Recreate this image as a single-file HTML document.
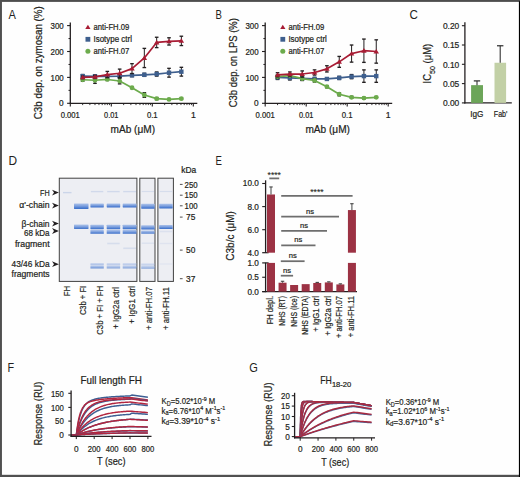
<!DOCTYPE html>
<html><head><meta charset="utf-8"><style>
html,body{margin:0;padding:0;background:#fff;}
body{width:520px;height:477px;overflow:hidden;position:relative;}
svg{position:absolute;left:0;top:0;font-family:"Liberation Sans", sans-serif;}
</style></head><body>
<svg width="520" height="477" viewBox="0 0 520 477">
<rect x="0" y="0" width="520" height="477" fill="#fefefe"/>
<text x="8.4" y="18.9" font-size="12.3" text-anchor="start" fill="#231f20" textLength="7.4" lengthAdjust="spacingAndGlyphs">A</text>
<text x="215.6" y="18.6" font-size="12.3" text-anchor="start" fill="#231f20" textLength="6.4" lengthAdjust="spacingAndGlyphs">B</text>
<text x="409.5" y="18.9" font-size="12.3" text-anchor="start" fill="#231f20" textLength="8.4" lengthAdjust="spacingAndGlyphs">C</text>
<text x="8.4" y="164.7" font-size="12.3" text-anchor="start" fill="#231f20" textLength="8.6" lengthAdjust="spacingAndGlyphs">D</text>
<text x="215.6" y="164.5" font-size="12.3" text-anchor="start" fill="#231f20" textLength="6.4" lengthAdjust="spacingAndGlyphs">E</text>
<text x="7.6" y="371.8" font-size="12.3" text-anchor="start" fill="#231f20" textLength="6.6" lengthAdjust="spacingAndGlyphs">F</text>
<text x="249.2" y="371.5" font-size="12.3" text-anchor="start" fill="#231f20" textLength="8.6" lengthAdjust="spacingAndGlyphs">G</text>
<line x1="70.3" y1="22.5" x2="70.3" y2="103.89999999999999" stroke="#231f20" stroke-width="1.3"/>
<line x1="69.7" y1="103.3" x2="197.3" y2="103.3" stroke="#231f20" stroke-width="1.3"/>
<line x1="67.1" y1="103.3" x2="70.3" y2="103.3" stroke="#231f20" stroke-width="1.1"/>
<text x="63.699999999999996" y="106.39999999999999" font-size="8.7" text-anchor="end" fill="#231f20" textLength="4.6" lengthAdjust="spacingAndGlyphs" stroke="#231f20" stroke-width="0.22">0</text>
<line x1="67.1" y1="77.39999999999999" x2="70.3" y2="77.39999999999999" stroke="#231f20" stroke-width="1.1"/>
<text x="63.699999999999996" y="80.49999999999999" font-size="8.7" text-anchor="end" fill="#231f20" textLength="13.2" lengthAdjust="spacingAndGlyphs" stroke="#231f20" stroke-width="0.22">100</text>
<line x1="67.1" y1="51.49999999999999" x2="70.3" y2="51.49999999999999" stroke="#231f20" stroke-width="1.1"/>
<text x="63.699999999999996" y="54.599999999999994" font-size="8.7" text-anchor="end" fill="#231f20" textLength="13.2" lengthAdjust="spacingAndGlyphs" stroke="#231f20" stroke-width="0.22">200</text>
<line x1="67.1" y1="25.599999999999994" x2="70.3" y2="25.599999999999994" stroke="#231f20" stroke-width="1.1"/>
<text x="63.699999999999996" y="28.699999999999996" font-size="8.7" text-anchor="end" fill="#231f20" textLength="13.2" lengthAdjust="spacingAndGlyphs" stroke="#231f20" stroke-width="0.22">300</text>
<line x1="68.5" y1="90.35" x2="70.3" y2="90.35" stroke="#231f20" stroke-width="1.0"/>
<line x1="68.5" y1="64.44999999999999" x2="70.3" y2="64.44999999999999" stroke="#231f20" stroke-width="1.0"/>
<line x1="68.5" y1="38.55" x2="70.3" y2="38.55" stroke="#231f20" stroke-width="1.0"/>
<line x1="70.3" y1="103.3" x2="70.3" y2="106.6" stroke="#231f20" stroke-width="1.1"/>
<line x1="82.64222982222323" y1="103.3" x2="82.64222982222323" y2="105.1" stroke="#231f20" stroke-width="0.9"/>
<line x1="89.86197144350615" y1="103.3" x2="89.86197144350615" y2="105.1" stroke="#231f20" stroke-width="0.9"/>
<line x1="94.98445964444646" y1="103.3" x2="94.98445964444646" y2="105.1" stroke="#231f20" stroke-width="0.9"/>
<line x1="98.95777017777677" y1="103.3" x2="98.95777017777677" y2="105.1" stroke="#231f20" stroke-width="0.9"/>
<line x1="102.20420126572938" y1="103.3" x2="102.20420126572938" y2="105.1" stroke="#231f20" stroke-width="0.9"/>
<line x1="104.94901964058452" y1="103.3" x2="104.94901964058452" y2="105.1" stroke="#231f20" stroke-width="0.9"/>
<line x1="107.32668946666968" y1="103.3" x2="107.32668946666968" y2="105.1" stroke="#231f20" stroke-width="0.9"/>
<line x1="109.42394288701232" y1="103.3" x2="109.42394288701232" y2="105.1" stroke="#231f20" stroke-width="0.9"/>
<line x1="111.3" y1="103.3" x2="111.3" y2="106.6" stroke="#231f20" stroke-width="1.1"/>
<line x1="123.64222982222323" y1="103.3" x2="123.64222982222323" y2="105.1" stroke="#231f20" stroke-width="0.9"/>
<line x1="130.86197144350615" y1="103.3" x2="130.86197144350615" y2="105.1" stroke="#231f20" stroke-width="0.9"/>
<line x1="135.98445964444647" y1="103.3" x2="135.98445964444647" y2="105.1" stroke="#231f20" stroke-width="0.9"/>
<line x1="139.95777017777675" y1="103.3" x2="139.95777017777675" y2="105.1" stroke="#231f20" stroke-width="0.9"/>
<line x1="143.20420126572938" y1="103.3" x2="143.20420126572938" y2="105.1" stroke="#231f20" stroke-width="0.9"/>
<line x1="145.94901964058454" y1="103.3" x2="145.94901964058454" y2="105.1" stroke="#231f20" stroke-width="0.9"/>
<line x1="148.32668946666968" y1="103.3" x2="148.32668946666968" y2="105.1" stroke="#231f20" stroke-width="0.9"/>
<line x1="150.42394288701232" y1="103.3" x2="150.42394288701232" y2="105.1" stroke="#231f20" stroke-width="0.9"/>
<line x1="152.3" y1="103.3" x2="152.3" y2="106.6" stroke="#231f20" stroke-width="1.1"/>
<line x1="164.64222982222321" y1="103.3" x2="164.64222982222321" y2="105.1" stroke="#231f20" stroke-width="0.9"/>
<line x1="171.86197144350615" y1="103.3" x2="171.86197144350615" y2="105.1" stroke="#231f20" stroke-width="0.9"/>
<line x1="176.98445964444647" y1="103.3" x2="176.98445964444647" y2="105.1" stroke="#231f20" stroke-width="0.9"/>
<line x1="180.95777017777675" y1="103.3" x2="180.95777017777675" y2="105.1" stroke="#231f20" stroke-width="0.9"/>
<line x1="184.2042012657294" y1="103.3" x2="184.2042012657294" y2="105.1" stroke="#231f20" stroke-width="0.9"/>
<line x1="186.94901964058454" y1="103.3" x2="186.94901964058454" y2="105.1" stroke="#231f20" stroke-width="0.9"/>
<line x1="189.32668946666968" y1="103.3" x2="189.32668946666968" y2="105.1" stroke="#231f20" stroke-width="0.9"/>
<line x1="191.42394288701232" y1="103.3" x2="191.42394288701232" y2="105.1" stroke="#231f20" stroke-width="0.9"/>
<line x1="193.3" y1="103.3" x2="193.3" y2="106.6" stroke="#231f20" stroke-width="1.1"/>
<text x="70.3" y="117.6" font-size="8.7" text-anchor="middle" fill="#231f20" textLength="19.2" lengthAdjust="spacingAndGlyphs" stroke="#231f20" stroke-width="0.22">0.001</text>
<text x="111.3" y="117.6" font-size="8.7" text-anchor="middle" fill="#231f20" textLength="14.4" lengthAdjust="spacingAndGlyphs" stroke="#231f20" stroke-width="0.22">0.01</text>
<text x="152.3" y="117.6" font-size="8.7" text-anchor="middle" fill="#231f20" textLength="10.8" lengthAdjust="spacingAndGlyphs" stroke="#231f20" stroke-width="0.22">0.1</text>
<text x="193.3" y="117.6" font-size="8.7" text-anchor="middle" fill="#231f20" stroke="#231f20" stroke-width="0.22">1</text>
<text x="132.8" y="132.9" font-size="10.4" text-anchor="middle" fill="#231f20" textLength="44.5" lengthAdjust="spacingAndGlyphs" stroke="#231f20" stroke-width="0.22">mAb (μM)</text>
<text transform="translate(41.699999999999996,62.7) rotate(-90)" font-size="10.2" text-anchor="middle" fill="#231f20" textLength="113" lengthAdjust="spacingAndGlyphs" stroke="#231f20" stroke-width="0.22">C3b dep. on zymosan (%)</text>
<line x1="82.64" y1="74.55099999999999" x2="82.64" y2="77.65899999999999" stroke="#231f20" stroke-width="1.0"/>
<line x1="80.84" y1="74.55099999999999" x2="84.44" y2="74.55099999999999" stroke="#231f20" stroke-width="1.35"/>
<line x1="80.84" y1="77.65899999999999" x2="84.44" y2="77.65899999999999" stroke="#231f20" stroke-width="1.35"/>
<line x1="94.97999999999999" y1="75.06899999999999" x2="94.97999999999999" y2="77.65899999999999" stroke="#231f20" stroke-width="1.0"/>
<line x1="93.17999999999999" y1="75.06899999999999" x2="96.77999999999999" y2="75.06899999999999" stroke="#231f20" stroke-width="1.35"/>
<line x1="93.17999999999999" y1="77.65899999999999" x2="96.77999999999999" y2="77.65899999999999" stroke="#231f20" stroke-width="1.35"/>
<line x1="107.32" y1="74.81" x2="107.32" y2="77.91799999999999" stroke="#231f20" stroke-width="1.0"/>
<line x1="105.52" y1="74.81" x2="109.11999999999999" y2="74.81" stroke="#231f20" stroke-width="1.35"/>
<line x1="105.52" y1="77.91799999999999" x2="109.11999999999999" y2="77.91799999999999" stroke="#231f20" stroke-width="1.35"/>
<line x1="119.66" y1="74.55099999999999" x2="119.66" y2="77.65899999999999" stroke="#231f20" stroke-width="1.0"/>
<line x1="117.86" y1="74.55099999999999" x2="121.46" y2="74.55099999999999" stroke="#231f20" stroke-width="1.35"/>
<line x1="117.86" y1="77.65899999999999" x2="121.46" y2="77.65899999999999" stroke="#231f20" stroke-width="1.35"/>
<line x1="132.0" y1="74.033" x2="132.0" y2="76.62299999999999" stroke="#231f20" stroke-width="1.0"/>
<line x1="130.2" y1="74.033" x2="133.8" y2="74.033" stroke="#231f20" stroke-width="1.35"/>
<line x1="130.2" y1="76.62299999999999" x2="133.8" y2="76.62299999999999" stroke="#231f20" stroke-width="1.35"/>
<line x1="144.33999999999997" y1="73.256" x2="144.33999999999997" y2="76.364" stroke="#231f20" stroke-width="1.0"/>
<line x1="142.53999999999996" y1="73.256" x2="146.14" y2="73.256" stroke="#231f20" stroke-width="1.35"/>
<line x1="142.53999999999996" y1="76.364" x2="146.14" y2="76.364" stroke="#231f20" stroke-width="1.35"/>
<line x1="156.68" y1="71.961" x2="156.68" y2="76.10499999999999" stroke="#231f20" stroke-width="1.0"/>
<line x1="154.88" y1="71.961" x2="158.48000000000002" y2="71.961" stroke="#231f20" stroke-width="1.35"/>
<line x1="154.88" y1="76.10499999999999" x2="158.48000000000002" y2="76.10499999999999" stroke="#231f20" stroke-width="1.35"/>
<line x1="169.01999999999998" y1="68.335" x2="169.01999999999998" y2="77.14099999999999" stroke="#231f20" stroke-width="1.0"/>
<line x1="167.21999999999997" y1="68.335" x2="170.82" y2="68.335" stroke="#231f20" stroke-width="1.35"/>
<line x1="167.21999999999997" y1="77.14099999999999" x2="170.82" y2="77.14099999999999" stroke="#231f20" stroke-width="1.35"/>
<line x1="181.36" y1="67.299" x2="181.36" y2="76.10499999999999" stroke="#231f20" stroke-width="1.0"/>
<line x1="179.56" y1="67.299" x2="183.16000000000003" y2="67.299" stroke="#231f20" stroke-width="1.35"/>
<line x1="179.56" y1="76.10499999999999" x2="183.16000000000003" y2="76.10499999999999" stroke="#231f20" stroke-width="1.35"/>
<polyline points="82.64,76.10 94.98,76.36 107.32,76.36 119.66,76.10 132.00,75.33 144.34,74.81 156.68,74.03 169.02,72.74 181.36,71.70" fill="none" stroke="#3e5f8e" stroke-width="1.7" stroke-linejoin="round"/>
<rect x="80.44" y="73.9" width="4.4" height="4.4" fill="#3e5f8e"/>
<rect x="92.78" y="74.16" width="4.4" height="4.4" fill="#3e5f8e"/>
<rect x="105.12" y="74.16" width="4.4" height="4.4" fill="#3e5f8e"/>
<rect x="117.46" y="73.9" width="4.4" height="4.4" fill="#3e5f8e"/>
<rect x="129.8" y="73.13" width="4.4" height="4.4" fill="#3e5f8e"/>
<rect x="142.14" y="72.61" width="4.4" height="4.4" fill="#3e5f8e"/>
<rect x="154.48" y="71.83" width="4.4" height="4.4" fill="#3e5f8e"/>
<rect x="166.82" y="70.54" width="4.4" height="4.4" fill="#3e5f8e"/>
<rect x="179.16" y="69.5" width="4.4" height="4.4" fill="#3e5f8e"/>
<line x1="82.64" y1="78.17699999999999" x2="82.64" y2="81.285" stroke="#231f20" stroke-width="1.0"/>
<line x1="80.84" y1="78.17699999999999" x2="84.44" y2="78.17699999999999" stroke="#231f20" stroke-width="1.35"/>
<line x1="80.84" y1="81.285" x2="84.44" y2="81.285" stroke="#231f20" stroke-width="1.35"/>
<line x1="94.97999999999999" y1="77.14099999999999" x2="94.97999999999999" y2="83.357" stroke="#231f20" stroke-width="1.0"/>
<line x1="93.17999999999999" y1="77.14099999999999" x2="96.77999999999999" y2="77.14099999999999" stroke="#231f20" stroke-width="1.35"/>
<line x1="93.17999999999999" y1="83.357" x2="96.77999999999999" y2="83.357" stroke="#231f20" stroke-width="1.35"/>
<line x1="107.32" y1="78.43599999999999" x2="107.32" y2="80.508" stroke="#231f20" stroke-width="1.0"/>
<line x1="105.52" y1="78.43599999999999" x2="109.11999999999999" y2="78.43599999999999" stroke="#231f20" stroke-width="1.35"/>
<line x1="105.52" y1="80.508" x2="109.11999999999999" y2="80.508" stroke="#231f20" stroke-width="1.35"/>
<line x1="119.66" y1="78.17699999999999" x2="119.66" y2="83.875" stroke="#231f20" stroke-width="1.0"/>
<line x1="117.86" y1="78.17699999999999" x2="121.46" y2="78.17699999999999" stroke="#231f20" stroke-width="1.35"/>
<line x1="117.86" y1="83.875" x2="121.46" y2="83.875" stroke="#231f20" stroke-width="1.35"/>
<line x1="132.0" y1="86.983" x2="132.0" y2="88.53699999999999" stroke="#231f20" stroke-width="1.0"/>
<line x1="130.2" y1="86.983" x2="133.8" y2="86.983" stroke="#231f20" stroke-width="1.35"/>
<line x1="130.2" y1="88.53699999999999" x2="133.8" y2="88.53699999999999" stroke="#231f20" stroke-width="1.35"/>
<line x1="144.33999999999997" y1="92.681" x2="144.33999999999997" y2="97.343" stroke="#231f20" stroke-width="1.0"/>
<line x1="142.53999999999996" y1="92.681" x2="146.14" y2="92.681" stroke="#231f20" stroke-width="1.35"/>
<line x1="142.53999999999996" y1="97.343" x2="146.14" y2="97.343" stroke="#231f20" stroke-width="1.35"/>
<line x1="156.68" y1="97.602" x2="156.68" y2="99.67399999999999" stroke="#231f20" stroke-width="1.0"/>
<line x1="154.88" y1="97.602" x2="158.48000000000002" y2="97.602" stroke="#231f20" stroke-width="1.35"/>
<line x1="154.88" y1="99.67399999999999" x2="158.48000000000002" y2="99.67399999999999" stroke="#231f20" stroke-width="1.35"/>
<line x1="169.01999999999998" y1="98.63799999999999" x2="169.01999999999998" y2="100.192" stroke="#231f20" stroke-width="1.0"/>
<line x1="167.21999999999997" y1="98.63799999999999" x2="170.82" y2="98.63799999999999" stroke="#231f20" stroke-width="1.35"/>
<line x1="167.21999999999997" y1="100.192" x2="170.82" y2="100.192" stroke="#231f20" stroke-width="1.35"/>
<line x1="181.36" y1="97.86099999999999" x2="181.36" y2="99.41499999999999" stroke="#231f20" stroke-width="1.0"/>
<line x1="179.56" y1="97.86099999999999" x2="183.16000000000003" y2="97.86099999999999" stroke="#231f20" stroke-width="1.35"/>
<line x1="179.56" y1="99.41499999999999" x2="183.16000000000003" y2="99.41499999999999" stroke="#231f20" stroke-width="1.35"/>
<polyline points="82.64,79.73 94.98,80.25 107.32,79.47 119.66,81.03 132.00,87.76 144.34,95.01 156.68,98.64 169.02,99.41 181.36,98.64" fill="none" stroke="#6cab4c" stroke-width="1.7" stroke-linejoin="round"/>
<circle cx="82.64" cy="79.73" r="2.4" fill="#6cab4c"/>
<circle cx="94.98" cy="80.25" r="2.4" fill="#6cab4c"/>
<circle cx="107.32" cy="79.47" r="2.4" fill="#6cab4c"/>
<circle cx="119.66" cy="81.03" r="2.4" fill="#6cab4c"/>
<circle cx="132.00" cy="87.76" r="2.4" fill="#6cab4c"/>
<circle cx="144.34" cy="95.01" r="2.4" fill="#6cab4c"/>
<circle cx="156.68" cy="98.64" r="2.4" fill="#6cab4c"/>
<circle cx="169.02" cy="99.41" r="2.4" fill="#6cab4c"/>
<circle cx="181.36" cy="98.64" r="2.4" fill="#6cab4c"/>
<line x1="82.64" y1="76.10499999999999" x2="82.64" y2="78.695" stroke="#231f20" stroke-width="1.0"/>
<line x1="80.84" y1="76.10499999999999" x2="84.44" y2="76.10499999999999" stroke="#231f20" stroke-width="1.35"/>
<line x1="80.84" y1="78.695" x2="84.44" y2="78.695" stroke="#231f20" stroke-width="1.35"/>
<line x1="94.97999999999999" y1="75.328" x2="94.97999999999999" y2="78.43599999999999" stroke="#231f20" stroke-width="1.0"/>
<line x1="93.17999999999999" y1="75.328" x2="96.77999999999999" y2="75.328" stroke="#231f20" stroke-width="1.35"/>
<line x1="93.17999999999999" y1="78.43599999999999" x2="96.77999999999999" y2="78.43599999999999" stroke="#231f20" stroke-width="1.35"/>
<line x1="107.32" y1="71.443" x2="107.32" y2="77.65899999999999" stroke="#231f20" stroke-width="1.0"/>
<line x1="105.52" y1="71.443" x2="109.11999999999999" y2="71.443" stroke="#231f20" stroke-width="1.35"/>
<line x1="105.52" y1="77.65899999999999" x2="109.11999999999999" y2="77.65899999999999" stroke="#231f20" stroke-width="1.35"/>
<line x1="119.66" y1="69.112" x2="119.66" y2="77.39999999999999" stroke="#231f20" stroke-width="1.0"/>
<line x1="117.86" y1="69.112" x2="121.46" y2="69.112" stroke="#231f20" stroke-width="1.35"/>
<line x1="117.86" y1="77.39999999999999" x2="121.46" y2="77.39999999999999" stroke="#231f20" stroke-width="1.35"/>
<line x1="132.0" y1="63.672999999999995" x2="132.0" y2="73.515" stroke="#231f20" stroke-width="1.0"/>
<line x1="130.2" y1="63.672999999999995" x2="133.8" y2="63.672999999999995" stroke="#231f20" stroke-width="1.35"/>
<line x1="130.2" y1="73.515" x2="133.8" y2="73.515" stroke="#231f20" stroke-width="1.35"/>
<line x1="144.33999999999997" y1="48.391999999999996" x2="144.33999999999997" y2="67.55799999999999" stroke="#231f20" stroke-width="1.0"/>
<line x1="142.53999999999996" y1="48.391999999999996" x2="146.14" y2="48.391999999999996" stroke="#231f20" stroke-width="1.35"/>
<line x1="142.53999999999996" y1="67.55799999999999" x2="146.14" y2="67.55799999999999" stroke="#231f20" stroke-width="1.35"/>
<line x1="156.68" y1="37.254999999999995" x2="156.68" y2="47.614999999999995" stroke="#231f20" stroke-width="1.0"/>
<line x1="154.88" y1="37.254999999999995" x2="158.48000000000002" y2="37.254999999999995" stroke="#231f20" stroke-width="1.35"/>
<line x1="154.88" y1="47.614999999999995" x2="158.48000000000002" y2="47.614999999999995" stroke="#231f20" stroke-width="1.35"/>
<line x1="169.01999999999998" y1="37.772999999999996" x2="169.01999999999998" y2="45.025" stroke="#231f20" stroke-width="1.0"/>
<line x1="167.21999999999997" y1="37.772999999999996" x2="170.82" y2="37.772999999999996" stroke="#231f20" stroke-width="1.35"/>
<line x1="167.21999999999997" y1="45.025" x2="170.82" y2="45.025" stroke="#231f20" stroke-width="1.35"/>
<line x1="181.36" y1="36.218999999999994" x2="181.36" y2="45.54299999999999" stroke="#231f20" stroke-width="1.0"/>
<line x1="179.56" y1="36.218999999999994" x2="183.16000000000003" y2="36.218999999999994" stroke="#231f20" stroke-width="1.35"/>
<line x1="179.56" y1="45.54299999999999" x2="183.16000000000003" y2="45.54299999999999" stroke="#231f20" stroke-width="1.35"/>
<polyline points="82.64,77.40 94.98,76.88 107.32,74.55 119.66,73.26 132.00,68.59 144.34,57.97 156.68,42.43 169.02,41.40 181.36,40.88" fill="none" stroke="#a81c34" stroke-width="1.7" stroke-linejoin="round"/>
<path d="M82.64,74.80 L85.37,79.35 L79.91,79.35 Z" fill="#a81c34"/>
<path d="M94.98,74.28 L97.71,78.83 L92.25,78.83 Z" fill="#a81c34"/>
<path d="M107.32,71.95 L110.05,76.50 L104.59,76.50 Z" fill="#a81c34"/>
<path d="M119.66,70.66 L122.39,75.21 L116.93,75.21 Z" fill="#a81c34"/>
<path d="M132.00,65.99 L134.73,70.54 L129.27,70.54 Z" fill="#a81c34"/>
<path d="M144.34,55.37 L147.07,59.92 L141.61,59.92 Z" fill="#a81c34"/>
<path d="M156.68,39.83 L159.41,44.38 L153.95,44.38 Z" fill="#a81c34"/>
<path d="M169.02,38.80 L171.75,43.35 L166.29,43.35 Z" fill="#a81c34"/>
<path d="M181.36,38.28 L184.09,42.83 L178.63,42.83 Z" fill="#a81c34"/>
<path d="M87.90,24.70 L90.53,29.07 L85.28,29.07 Z" fill="#a81c34"/>
<rect x="85.5" y="36.9" width="4.8" height="4.8" fill="#3e5f8e"/>
<circle cx="87.90" cy="51.20" r="2.5" fill="#6cab4c"/>
<text x="93.5" y="29.7" font-size="8.4" text-anchor="start" fill="#231f20" textLength="35.8" lengthAdjust="spacingAndGlyphs" stroke="#231f20" stroke-width="0.22">anti-FH.09</text>
<text x="93.5" y="41.8" font-size="8.4" text-anchor="start" fill="#231f20" textLength="38.4" lengthAdjust="spacingAndGlyphs" stroke="#231f20" stroke-width="0.22">Isotype ctrl</text>
<text x="93.5" y="54.0" font-size="8.4" text-anchor="start" fill="#231f20" textLength="35.8" lengthAdjust="spacingAndGlyphs" stroke="#231f20" stroke-width="0.22">anti-FH.07</text>
<line x1="265.2" y1="22.5" x2="265.2" y2="103.89999999999999" stroke="#231f20" stroke-width="1.3"/>
<line x1="264.59999999999997" y1="103.3" x2="392.2" y2="103.3" stroke="#231f20" stroke-width="1.3"/>
<line x1="262.0" y1="103.3" x2="265.2" y2="103.3" stroke="#231f20" stroke-width="1.1"/>
<text x="258.59999999999997" y="106.39999999999999" font-size="8.7" text-anchor="end" fill="#231f20" textLength="4.6" lengthAdjust="spacingAndGlyphs" stroke="#231f20" stroke-width="0.22">0</text>
<line x1="262.0" y1="77.39999999999999" x2="265.2" y2="77.39999999999999" stroke="#231f20" stroke-width="1.1"/>
<text x="258.59999999999997" y="80.49999999999999" font-size="8.7" text-anchor="end" fill="#231f20" textLength="13.2" lengthAdjust="spacingAndGlyphs" stroke="#231f20" stroke-width="0.22">100</text>
<line x1="262.0" y1="51.49999999999999" x2="265.2" y2="51.49999999999999" stroke="#231f20" stroke-width="1.1"/>
<text x="258.59999999999997" y="54.599999999999994" font-size="8.7" text-anchor="end" fill="#231f20" textLength="13.2" lengthAdjust="spacingAndGlyphs" stroke="#231f20" stroke-width="0.22">200</text>
<line x1="262.0" y1="25.599999999999994" x2="265.2" y2="25.599999999999994" stroke="#231f20" stroke-width="1.1"/>
<text x="258.59999999999997" y="28.699999999999996" font-size="8.7" text-anchor="end" fill="#231f20" textLength="13.2" lengthAdjust="spacingAndGlyphs" stroke="#231f20" stroke-width="0.22">300</text>
<line x1="263.4" y1="90.35" x2="265.2" y2="90.35" stroke="#231f20" stroke-width="1.0"/>
<line x1="263.4" y1="64.44999999999999" x2="265.2" y2="64.44999999999999" stroke="#231f20" stroke-width="1.0"/>
<line x1="263.4" y1="38.55" x2="265.2" y2="38.55" stroke="#231f20" stroke-width="1.0"/>
<line x1="265.2" y1="103.3" x2="265.2" y2="106.6" stroke="#231f20" stroke-width="1.1"/>
<line x1="277.5422298222232" y1="103.3" x2="277.5422298222232" y2="105.1" stroke="#231f20" stroke-width="0.9"/>
<line x1="284.7619714435061" y1="103.3" x2="284.7619714435061" y2="105.1" stroke="#231f20" stroke-width="0.9"/>
<line x1="289.88445964444645" y1="103.3" x2="289.88445964444645" y2="105.1" stroke="#231f20" stroke-width="0.9"/>
<line x1="293.8577701777768" y1="103.3" x2="293.8577701777768" y2="105.1" stroke="#231f20" stroke-width="0.9"/>
<line x1="297.1042012657294" y1="103.3" x2="297.1042012657294" y2="105.1" stroke="#231f20" stroke-width="0.9"/>
<line x1="299.8490196405845" y1="103.3" x2="299.8490196405845" y2="105.1" stroke="#231f20" stroke-width="0.9"/>
<line x1="302.22668946666965" y1="103.3" x2="302.22668946666965" y2="105.1" stroke="#231f20" stroke-width="0.9"/>
<line x1="304.3239428870123" y1="103.3" x2="304.3239428870123" y2="105.1" stroke="#231f20" stroke-width="0.9"/>
<line x1="306.2" y1="103.3" x2="306.2" y2="106.6" stroke="#231f20" stroke-width="1.1"/>
<line x1="318.54222982222325" y1="103.3" x2="318.54222982222325" y2="105.1" stroke="#231f20" stroke-width="0.9"/>
<line x1="325.7619714435061" y1="103.3" x2="325.7619714435061" y2="105.1" stroke="#231f20" stroke-width="0.9"/>
<line x1="330.88445964444645" y1="103.3" x2="330.88445964444645" y2="105.1" stroke="#231f20" stroke-width="0.9"/>
<line x1="334.85777017777673" y1="103.3" x2="334.85777017777673" y2="105.1" stroke="#231f20" stroke-width="0.9"/>
<line x1="338.1042012657294" y1="103.3" x2="338.1042012657294" y2="105.1" stroke="#231f20" stroke-width="0.9"/>
<line x1="340.8490196405845" y1="103.3" x2="340.8490196405845" y2="105.1" stroke="#231f20" stroke-width="0.9"/>
<line x1="343.22668946666965" y1="103.3" x2="343.22668946666965" y2="105.1" stroke="#231f20" stroke-width="0.9"/>
<line x1="345.3239428870123" y1="103.3" x2="345.3239428870123" y2="105.1" stroke="#231f20" stroke-width="0.9"/>
<line x1="347.2" y1="103.3" x2="347.2" y2="106.6" stroke="#231f20" stroke-width="1.1"/>
<line x1="359.54222982222325" y1="103.3" x2="359.54222982222325" y2="105.1" stroke="#231f20" stroke-width="0.9"/>
<line x1="366.7619714435061" y1="103.3" x2="366.7619714435061" y2="105.1" stroke="#231f20" stroke-width="0.9"/>
<line x1="371.88445964444645" y1="103.3" x2="371.88445964444645" y2="105.1" stroke="#231f20" stroke-width="0.9"/>
<line x1="375.85777017777673" y1="103.3" x2="375.85777017777673" y2="105.1" stroke="#231f20" stroke-width="0.9"/>
<line x1="379.1042012657294" y1="103.3" x2="379.1042012657294" y2="105.1" stroke="#231f20" stroke-width="0.9"/>
<line x1="381.8490196405845" y1="103.3" x2="381.8490196405845" y2="105.1" stroke="#231f20" stroke-width="0.9"/>
<line x1="384.22668946666965" y1="103.3" x2="384.22668946666965" y2="105.1" stroke="#231f20" stroke-width="0.9"/>
<line x1="386.3239428870123" y1="103.3" x2="386.3239428870123" y2="105.1" stroke="#231f20" stroke-width="0.9"/>
<line x1="388.2" y1="103.3" x2="388.2" y2="106.6" stroke="#231f20" stroke-width="1.1"/>
<text x="265.2" y="117.6" font-size="8.7" text-anchor="middle" fill="#231f20" textLength="19.2" lengthAdjust="spacingAndGlyphs" stroke="#231f20" stroke-width="0.22">0.001</text>
<text x="306.2" y="117.6" font-size="8.7" text-anchor="middle" fill="#231f20" textLength="14.4" lengthAdjust="spacingAndGlyphs" stroke="#231f20" stroke-width="0.22">0.01</text>
<text x="347.2" y="117.6" font-size="8.7" text-anchor="middle" fill="#231f20" textLength="10.8" lengthAdjust="spacingAndGlyphs" stroke="#231f20" stroke-width="0.22">0.1</text>
<text x="388.2" y="117.6" font-size="8.7" text-anchor="middle" fill="#231f20" stroke="#231f20" stroke-width="0.22">1</text>
<text x="327.7" y="132.9" font-size="10.4" text-anchor="middle" fill="#231f20" textLength="44.5" lengthAdjust="spacingAndGlyphs" stroke="#231f20" stroke-width="0.22">mAb (μM)</text>
<text transform="translate(236.89999999999998,62.7) rotate(-90)" font-size="10.2" text-anchor="middle" fill="#231f20" textLength="89" lengthAdjust="spacingAndGlyphs" stroke="#231f20" stroke-width="0.22">C3b dep. on LPS (%)</text>
<line x1="277.53999999999996" y1="75.328" x2="277.53999999999996" y2="79.472" stroke="#231f20" stroke-width="1.0"/>
<line x1="275.73999999999995" y1="75.328" x2="279.34" y2="75.328" stroke="#231f20" stroke-width="1.35"/>
<line x1="275.73999999999995" y1="79.472" x2="279.34" y2="79.472" stroke="#231f20" stroke-width="1.35"/>
<line x1="289.88" y1="75.846" x2="289.88" y2="79.99" stroke="#231f20" stroke-width="1.0"/>
<line x1="288.08" y1="75.846" x2="291.68" y2="75.846" stroke="#231f20" stroke-width="1.35"/>
<line x1="288.08" y1="79.99" x2="291.68" y2="79.99" stroke="#231f20" stroke-width="1.35"/>
<line x1="302.21999999999997" y1="76.364" x2="302.21999999999997" y2="80.508" stroke="#231f20" stroke-width="1.0"/>
<line x1="300.41999999999996" y1="76.364" x2="304.02" y2="76.364" stroke="#231f20" stroke-width="1.35"/>
<line x1="300.41999999999996" y1="80.508" x2="304.02" y2="80.508" stroke="#231f20" stroke-width="1.35"/>
<line x1="314.56" y1="77.39999999999999" x2="314.56" y2="80.508" stroke="#231f20" stroke-width="1.0"/>
<line x1="312.76" y1="77.39999999999999" x2="316.36" y2="77.39999999999999" stroke="#231f20" stroke-width="1.35"/>
<line x1="312.76" y1="80.508" x2="316.36" y2="80.508" stroke="#231f20" stroke-width="1.35"/>
<line x1="326.9" y1="77.91799999999999" x2="326.9" y2="79.99" stroke="#231f20" stroke-width="1.0"/>
<line x1="325.09999999999997" y1="77.91799999999999" x2="328.7" y2="77.91799999999999" stroke="#231f20" stroke-width="1.35"/>
<line x1="325.09999999999997" y1="79.99" x2="328.7" y2="79.99" stroke="#231f20" stroke-width="1.35"/>
<line x1="339.24" y1="76.364" x2="339.24" y2="79.472" stroke="#231f20" stroke-width="1.0"/>
<line x1="337.44" y1="76.364" x2="341.04" y2="76.364" stroke="#231f20" stroke-width="1.35"/>
<line x1="337.44" y1="79.472" x2="341.04" y2="79.472" stroke="#231f20" stroke-width="1.35"/>
<line x1="351.58" y1="74.55099999999999" x2="351.58" y2="78.695" stroke="#231f20" stroke-width="1.0"/>
<line x1="349.78" y1="74.55099999999999" x2="353.38" y2="74.55099999999999" stroke="#231f20" stroke-width="1.35"/>
<line x1="349.78" y1="78.695" x2="353.38" y2="78.695" stroke="#231f20" stroke-width="1.35"/>
<line x1="363.91999999999996" y1="69.889" x2="363.91999999999996" y2="82.321" stroke="#231f20" stroke-width="1.0"/>
<line x1="362.11999999999995" y1="69.889" x2="365.71999999999997" y2="69.889" stroke="#231f20" stroke-width="1.35"/>
<line x1="362.11999999999995" y1="82.321" x2="365.71999999999997" y2="82.321" stroke="#231f20" stroke-width="1.35"/>
<line x1="376.26" y1="69.889" x2="376.26" y2="82.321" stroke="#231f20" stroke-width="1.0"/>
<line x1="374.46" y1="69.889" x2="378.06" y2="69.889" stroke="#231f20" stroke-width="1.35"/>
<line x1="374.46" y1="82.321" x2="378.06" y2="82.321" stroke="#231f20" stroke-width="1.35"/>
<polyline points="277.54,77.40 289.88,77.92 302.22,78.44 314.56,78.95 326.90,78.95 339.24,77.92 351.58,76.62 363.92,76.10 376.26,76.10" fill="none" stroke="#3e5f8e" stroke-width="1.7" stroke-linejoin="round"/>
<rect x="275.34" y="75.2" width="4.4" height="4.4" fill="#3e5f8e"/>
<rect x="287.68" y="75.72" width="4.4" height="4.4" fill="#3e5f8e"/>
<rect x="300.02" y="76.24" width="4.4" height="4.4" fill="#3e5f8e"/>
<rect x="312.36" y="76.75" width="4.4" height="4.4" fill="#3e5f8e"/>
<rect x="324.7" y="76.75" width="4.4" height="4.4" fill="#3e5f8e"/>
<rect x="337.04" y="75.72" width="4.4" height="4.4" fill="#3e5f8e"/>
<rect x="349.38" y="74.42" width="4.4" height="4.4" fill="#3e5f8e"/>
<rect x="361.72" y="73.9" width="4.4" height="4.4" fill="#3e5f8e"/>
<rect x="374.06" y="73.9" width="4.4" height="4.4" fill="#3e5f8e"/>
<line x1="277.53999999999996" y1="75.06899999999999" x2="277.53999999999996" y2="78.17699999999999" stroke="#231f20" stroke-width="1.0"/>
<line x1="275.73999999999995" y1="75.06899999999999" x2="279.34" y2="75.06899999999999" stroke="#231f20" stroke-width="1.35"/>
<line x1="275.73999999999995" y1="78.17699999999999" x2="279.34" y2="78.17699999999999" stroke="#231f20" stroke-width="1.35"/>
<line x1="289.88" y1="74.033" x2="289.88" y2="77.14099999999999" stroke="#231f20" stroke-width="1.0"/>
<line x1="288.08" y1="74.033" x2="291.68" y2="74.033" stroke="#231f20" stroke-width="1.35"/>
<line x1="288.08" y1="77.14099999999999" x2="291.68" y2="77.14099999999999" stroke="#231f20" stroke-width="1.35"/>
<line x1="302.21999999999997" y1="77.14099999999999" x2="302.21999999999997" y2="80.249" stroke="#231f20" stroke-width="1.0"/>
<line x1="300.41999999999996" y1="77.14099999999999" x2="304.02" y2="77.14099999999999" stroke="#231f20" stroke-width="1.35"/>
<line x1="300.41999999999996" y1="80.249" x2="304.02" y2="80.249" stroke="#231f20" stroke-width="1.35"/>
<line x1="314.56" y1="78.954" x2="314.56" y2="82.062" stroke="#231f20" stroke-width="1.0"/>
<line x1="312.76" y1="78.954" x2="316.36" y2="78.954" stroke="#231f20" stroke-width="1.35"/>
<line x1="312.76" y1="82.062" x2="316.36" y2="82.062" stroke="#231f20" stroke-width="1.35"/>
<line x1="326.9" y1="85.68799999999999" x2="326.9" y2="87.75999999999999" stroke="#231f20" stroke-width="1.0"/>
<line x1="325.09999999999997" y1="85.68799999999999" x2="328.7" y2="85.68799999999999" stroke="#231f20" stroke-width="1.35"/>
<line x1="325.09999999999997" y1="87.75999999999999" x2="328.7" y2="87.75999999999999" stroke="#231f20" stroke-width="1.35"/>
<line x1="339.24" y1="92.681" x2="339.24" y2="95.789" stroke="#231f20" stroke-width="1.0"/>
<line x1="337.44" y1="92.681" x2="341.04" y2="92.681" stroke="#231f20" stroke-width="1.35"/>
<line x1="337.44" y1="95.789" x2="341.04" y2="95.789" stroke="#231f20" stroke-width="1.35"/>
<line x1="351.58" y1="96.307" x2="351.58" y2="98.37899999999999" stroke="#231f20" stroke-width="1.0"/>
<line x1="349.78" y1="96.307" x2="353.38" y2="96.307" stroke="#231f20" stroke-width="1.35"/>
<line x1="349.78" y1="98.37899999999999" x2="353.38" y2="98.37899999999999" stroke="#231f20" stroke-width="1.35"/>
<line x1="363.91999999999996" y1="97.343" x2="363.91999999999996" y2="98.89699999999999" stroke="#231f20" stroke-width="1.0"/>
<line x1="362.11999999999995" y1="97.343" x2="365.71999999999997" y2="97.343" stroke="#231f20" stroke-width="1.35"/>
<line x1="362.11999999999995" y1="98.89699999999999" x2="365.71999999999997" y2="98.89699999999999" stroke="#231f20" stroke-width="1.35"/>
<line x1="376.26" y1="96.566" x2="376.26" y2="98.12" stroke="#231f20" stroke-width="1.0"/>
<line x1="374.46" y1="96.566" x2="378.06" y2="96.566" stroke="#231f20" stroke-width="1.35"/>
<line x1="374.46" y1="98.12" x2="378.06" y2="98.12" stroke="#231f20" stroke-width="1.35"/>
<polyline points="277.54,76.62 289.88,75.59 302.22,78.69 314.56,80.51 326.90,86.72 339.24,94.23 351.58,97.34 363.92,98.12 376.26,97.34" fill="none" stroke="#6cab4c" stroke-width="1.7" stroke-linejoin="round"/>
<circle cx="277.54" cy="76.62" r="2.4" fill="#6cab4c"/>
<circle cx="289.88" cy="75.59" r="2.4" fill="#6cab4c"/>
<circle cx="302.22" cy="78.69" r="2.4" fill="#6cab4c"/>
<circle cx="314.56" cy="80.51" r="2.4" fill="#6cab4c"/>
<circle cx="326.90" cy="86.72" r="2.4" fill="#6cab4c"/>
<circle cx="339.24" cy="94.23" r="2.4" fill="#6cab4c"/>
<circle cx="351.58" cy="97.34" r="2.4" fill="#6cab4c"/>
<circle cx="363.92" cy="98.12" r="2.4" fill="#6cab4c"/>
<circle cx="376.26" cy="97.34" r="2.4" fill="#6cab4c"/>
<line x1="277.53999999999996" y1="72.738" x2="277.53999999999996" y2="76.882" stroke="#231f20" stroke-width="1.0"/>
<line x1="275.73999999999995" y1="72.738" x2="279.34" y2="72.738" stroke="#231f20" stroke-width="1.35"/>
<line x1="275.73999999999995" y1="76.882" x2="279.34" y2="76.882" stroke="#231f20" stroke-width="1.35"/>
<line x1="289.88" y1="71.961" x2="289.88" y2="76.10499999999999" stroke="#231f20" stroke-width="1.0"/>
<line x1="288.08" y1="71.961" x2="291.68" y2="71.961" stroke="#231f20" stroke-width="1.35"/>
<line x1="288.08" y1="76.10499999999999" x2="291.68" y2="76.10499999999999" stroke="#231f20" stroke-width="1.35"/>
<line x1="302.21999999999997" y1="70.925" x2="302.21999999999997" y2="77.14099999999999" stroke="#231f20" stroke-width="1.0"/>
<line x1="300.41999999999996" y1="70.925" x2="304.02" y2="70.925" stroke="#231f20" stroke-width="1.35"/>
<line x1="300.41999999999996" y1="77.14099999999999" x2="304.02" y2="77.14099999999999" stroke="#231f20" stroke-width="1.35"/>
<line x1="314.56" y1="69.889" x2="314.56" y2="75.06899999999999" stroke="#231f20" stroke-width="1.0"/>
<line x1="312.76" y1="69.889" x2="316.36" y2="69.889" stroke="#231f20" stroke-width="1.35"/>
<line x1="312.76" y1="75.06899999999999" x2="316.36" y2="75.06899999999999" stroke="#231f20" stroke-width="1.35"/>
<line x1="326.9" y1="65.745" x2="326.9" y2="71.961" stroke="#231f20" stroke-width="1.0"/>
<line x1="325.09999999999997" y1="65.745" x2="328.7" y2="65.745" stroke="#231f20" stroke-width="1.35"/>
<line x1="325.09999999999997" y1="71.961" x2="328.7" y2="71.961" stroke="#231f20" stroke-width="1.35"/>
<line x1="339.24" y1="56.42099999999999" x2="339.24" y2="67.299" stroke="#231f20" stroke-width="1.0"/>
<line x1="337.44" y1="56.42099999999999" x2="341.04" y2="56.42099999999999" stroke="#231f20" stroke-width="1.35"/>
<line x1="337.44" y1="67.299" x2="341.04" y2="67.299" stroke="#231f20" stroke-width="1.35"/>
<line x1="351.58" y1="45.025" x2="351.58" y2="62.11899999999999" stroke="#231f20" stroke-width="1.0"/>
<line x1="349.78" y1="45.025" x2="353.38" y2="45.025" stroke="#231f20" stroke-width="1.35"/>
<line x1="349.78" y1="62.11899999999999" x2="353.38" y2="62.11899999999999" stroke="#231f20" stroke-width="1.35"/>
<line x1="363.91999999999996" y1="39.068" x2="363.91999999999996" y2="62.37799999999999" stroke="#231f20" stroke-width="1.0"/>
<line x1="362.11999999999995" y1="39.068" x2="365.71999999999997" y2="39.068" stroke="#231f20" stroke-width="1.35"/>
<line x1="362.11999999999995" y1="62.37799999999999" x2="365.71999999999997" y2="62.37799999999999" stroke="#231f20" stroke-width="1.35"/>
<line x1="376.26" y1="39.84499999999999" x2="376.26" y2="63.154999999999994" stroke="#231f20" stroke-width="1.0"/>
<line x1="374.46" y1="39.84499999999999" x2="378.06" y2="39.84499999999999" stroke="#231f20" stroke-width="1.35"/>
<line x1="374.46" y1="63.154999999999994" x2="378.06" y2="63.154999999999994" stroke="#231f20" stroke-width="1.35"/>
<polyline points="277.54,74.81 289.88,74.03 302.22,74.03 314.56,72.48 326.90,68.85 339.24,61.86 351.58,53.57 363.92,50.72 376.26,51.50" fill="none" stroke="#a81c34" stroke-width="1.7" stroke-linejoin="round"/>
<path d="M277.54,72.21 L280.27,76.76 L274.81,76.76 Z" fill="#a81c34"/>
<path d="M289.88,71.43 L292.61,75.98 L287.15,75.98 Z" fill="#a81c34"/>
<path d="M302.22,71.43 L304.95,75.98 L299.49,75.98 Z" fill="#a81c34"/>
<path d="M314.56,69.88 L317.29,74.43 L311.83,74.43 Z" fill="#a81c34"/>
<path d="M326.90,66.25 L329.63,70.80 L324.17,70.80 Z" fill="#a81c34"/>
<path d="M339.24,59.26 L341.97,63.81 L336.51,63.81 Z" fill="#a81c34"/>
<path d="M351.58,50.97 L354.31,55.52 L348.85,55.52 Z" fill="#a81c34"/>
<path d="M363.92,48.12 L366.65,52.67 L361.19,52.67 Z" fill="#a81c34"/>
<path d="M376.26,48.90 L378.99,53.45 L373.53,53.45 Z" fill="#a81c34"/>
<path d="M282.80,24.70 L285.43,29.07 L280.18,29.07 Z" fill="#a81c34"/>
<rect x="280.4" y="36.9" width="4.8" height="4.8" fill="#3e5f8e"/>
<circle cx="282.80" cy="51.20" r="2.5" fill="#6cab4c"/>
<text x="288.4" y="29.7" font-size="8.4" text-anchor="start" fill="#231f20" textLength="35.8" lengthAdjust="spacingAndGlyphs" stroke="#231f20" stroke-width="0.22">anti-FH.09</text>
<text x="288.4" y="41.8" font-size="8.4" text-anchor="start" fill="#231f20" textLength="38.4" lengthAdjust="spacingAndGlyphs" stroke="#231f20" stroke-width="0.22">Isotype ctrl</text>
<text x="288.4" y="54.0" font-size="8.4" text-anchor="start" fill="#231f20" textLength="35.8" lengthAdjust="spacingAndGlyphs" stroke="#231f20" stroke-width="0.22">anti-FH.07</text>
<line x1="464.9" y1="22.2" x2="464.9" y2="103.5" stroke="#231f20" stroke-width="1.3"/>
<line x1="464.29999999999995" y1="102.9" x2="511.8" y2="102.9" stroke="#231f20" stroke-width="1.3"/>
<line x1="461.9" y1="102.9" x2="464.9" y2="102.9" stroke="#231f20" stroke-width="1.1"/>
<text x="459.29999999999995" y="106.10000000000001" font-size="9.2" text-anchor="end" fill="#231f20" textLength="16.4" lengthAdjust="spacingAndGlyphs" stroke="#231f20" stroke-width="0.22">0.00</text>
<line x1="461.9" y1="83.60000000000001" x2="464.9" y2="83.60000000000001" stroke="#231f20" stroke-width="1.1"/>
<text x="459.29999999999995" y="86.80000000000001" font-size="9.2" text-anchor="end" fill="#231f20" textLength="16.4" lengthAdjust="spacingAndGlyphs" stroke="#231f20" stroke-width="0.22">0.05</text>
<line x1="461.9" y1="64.30000000000001" x2="464.9" y2="64.30000000000001" stroke="#231f20" stroke-width="1.1"/>
<text x="459.29999999999995" y="67.50000000000001" font-size="9.2" text-anchor="end" fill="#231f20" textLength="16.4" lengthAdjust="spacingAndGlyphs" stroke="#231f20" stroke-width="0.22">0.10</text>
<line x1="461.9" y1="45.00000000000001" x2="464.9" y2="45.00000000000001" stroke="#231f20" stroke-width="1.1"/>
<text x="459.29999999999995" y="48.20000000000001" font-size="9.2" text-anchor="end" fill="#231f20" textLength="16.4" lengthAdjust="spacingAndGlyphs" stroke="#231f20" stroke-width="0.22">0.15</text>
<line x1="461.9" y1="25.700000000000003" x2="464.9" y2="25.700000000000003" stroke="#231f20" stroke-width="1.1"/>
<text x="459.29999999999995" y="28.900000000000002" font-size="9.2" text-anchor="end" fill="#231f20" textLength="16.4" lengthAdjust="spacingAndGlyphs" stroke="#231f20" stroke-width="0.22">0.20</text>
<rect x="471.1" y="85.144" width="11.9" height="17.756" fill="#6ca559"/>
<rect x="494.5" y="62.75600000000001" width="11.6" height="40.144" fill="#c2d0a6"/>
<line x1="477.0" y1="80.89800000000001" x2="477.0" y2="85.144" stroke="#2a2a2a" stroke-width="1.05"/>
<line x1="473.8" y1="80.89800000000001" x2="480.2" y2="80.89800000000001" stroke="#2a2a2a" stroke-width="1.2"/>
<line x1="500.2" y1="45.772000000000006" x2="500.2" y2="62.75600000000001" stroke="#2a2a2a" stroke-width="1.05"/>
<line x1="497.0" y1="45.772000000000006" x2="503.4" y2="45.772000000000006" stroke="#2a2a2a" stroke-width="1.2"/>
<text x="476.8" y="117.2" font-size="9.2" text-anchor="middle" fill="#231f20" textLength="13.2" lengthAdjust="spacingAndGlyphs" stroke="#231f20" stroke-width="0.22">IgG</text>
<text x="500.6" y="117.2" font-size="9.2" text-anchor="middle" fill="#231f20" textLength="13.6" lengthAdjust="spacingAndGlyphs" stroke="#231f20" stroke-width="0.22">Fab'</text>
<text transform="translate(430.9,83.4) rotate(-90) scale(0.93,1)" font-size="10.2" fill="#231f20" stroke="#231f20" stroke-width="0.2">IC<tspan font-size="7.6" dy="3.6">50</tspan><tspan dy="-3.6"> (μM)</tspan></text>
<defs><filter id="bl" x="-20%" y="-100%" width="140%" height="300%"><feGaussianBlur stdDeviation="0.45"/></filter><filter id="bl2" x="-20%" y="-100%" width="140%" height="300%"><feGaussianBlur stdDeviation="0.8"/></filter><linearGradient id="bandS" x1="0" y1="0" x2="0" y2="1"><stop offset="0" stop-color="#adc3ea"/><stop offset="0.45" stop-color="#7fa1de"/><stop offset="0.8" stop-color="#4f7fd2"/><stop offset="1" stop-color="#3b6ec8"/></linearGradient><linearGradient id="bandM" x1="0" y1="0" x2="0" y2="1"><stop offset="0" stop-color="#bccdee"/><stop offset="0.6" stop-color="#8eabe2"/><stop offset="1" stop-color="#5f8ad6"/></linearGradient></defs>
<rect x="59.300000000000004" y="178.2" width="77.60" height="103.20" fill="#edeef3" stroke="#404040" stroke-width="1.0"/>
<rect x="139.79999999999998" y="178.2" width="15.20" height="103.20" fill="#edeef3" stroke="#404040" stroke-width="1.0"/>
<rect x="157.9" y="178.2" width="15.50" height="103.20" fill="#edeef3" stroke="#404040" stroke-width="1.0"/>
<rect x="63.0" y="191.90" width="8.50" height="1.4" fill="#7f9dd4" opacity="0.3" filter="url(#bl)"/>
<rect x="74.0" y="203.4" width="14.50" height="5.50" rx="0.4" fill="url(#bandS)" opacity="1.0" filter="url(#bl)"/>
<rect x="74.0" y="224.5" width="14.50" height="4.40" rx="0.4" fill="url(#bandS)" opacity="0.95" filter="url(#bl)"/>
<rect x="90.9" y="190.90" width="12.40" height="1.4" fill="#7f9dd4" opacity="0.25" filter="url(#bl)"/>
<rect x="90.4" y="203.6" width="13.40" height="3.80" rx="0.4" fill="url(#bandS)" opacity="1.0" filter="url(#bl)"/>
<rect x="90.4" y="224.8" width="13.40" height="4.40" rx="0.4" fill="url(#bandS)" opacity="1.0" filter="url(#bl)"/>
<rect x="90.4" y="230.0" width="13.40" height="3.80" rx="0.4" fill="url(#bandS)" opacity="1.0" filter="url(#bl)"/>
<rect x="90.4" y="262.9" width="13.40" height="2.40" rx="0.4" fill="url(#bandM)" opacity="0.55" filter="url(#bl)"/>
<rect x="90.4" y="265.6" width="13.40" height="3.00" rx="0.4" fill="url(#bandS)" opacity="0.75" filter="url(#bl)"/>
<rect x="107.2" y="190.90" width="12.50" height="1.4" fill="#7f9dd4" opacity="0.25" filter="url(#bl)"/>
<rect x="106.7" y="203.6" width="13.50" height="3.80" rx="0.4" fill="url(#bandS)" opacity="1.0" filter="url(#bl)"/>
<rect x="106.7" y="224.8" width="13.50" height="4.40" rx="0.4" fill="url(#bandS)" opacity="1.0" filter="url(#bl)"/>
<rect x="106.7" y="230.0" width="13.50" height="3.80" rx="0.4" fill="url(#bandS)" opacity="1.0" filter="url(#bl)"/>
<rect x="106.7" y="262.9" width="13.50" height="2.40" rx="0.4" fill="url(#bandM)" opacity="0.45" filter="url(#bl)"/>
<rect x="106.7" y="265.6" width="13.50" height="3.00" rx="0.4" fill="url(#bandS)" opacity="0.6" filter="url(#bl)"/>
<rect x="123.2" y="190.90" width="12.80" height="1.4" fill="#7f9dd4" opacity="0.25" filter="url(#bl)"/>
<rect x="122.7" y="203.6" width="13.80" height="3.80" rx="0.4" fill="url(#bandS)" opacity="1.0" filter="url(#bl)"/>
<rect x="122.7" y="224.8" width="13.80" height="4.40" rx="0.4" fill="url(#bandS)" opacity="1.0" filter="url(#bl)"/>
<rect x="122.7" y="230.0" width="13.80" height="3.80" rx="0.4" fill="url(#bandS)" opacity="1.0" filter="url(#bl)"/>
<rect x="122.7" y="262.9" width="13.80" height="2.40" rx="0.4" fill="url(#bandM)" opacity="0.45" filter="url(#bl)"/>
<rect x="122.7" y="265.6" width="13.80" height="3.00" rx="0.4" fill="url(#bandS)" opacity="0.6" filter="url(#bl)"/>
<rect x="107.2" y="242.70" width="12.50" height="1.6" fill="#7f9dd4" opacity="0.2" filter="url(#bl)"/>
<rect x="123.2" y="247.50" width="12.80" height="1.6" fill="#7f9dd4" opacity="0.2" filter="url(#bl)"/>
<rect x="141.2" y="203.8" width="13.40" height="4.90" rx="0.4" fill="url(#bandS)" opacity="1.0" filter="url(#bl)"/>
<rect x="141.2" y="225.3" width="13.40" height="4.20" rx="0.4" fill="url(#bandS)" opacity="1.0" filter="url(#bl)"/>
<rect x="141.2" y="230.4" width="13.40" height="3.40" rx="0.4" fill="url(#bandS)" opacity="0.85" filter="url(#bl)"/>
<rect x="141.2" y="263.2" width="13.40" height="2.40" rx="0.4" fill="url(#bandM)" opacity="0.4" filter="url(#bl)"/>
<rect x="141.2" y="265.9" width="13.40" height="2.90" rx="0.4" fill="url(#bandS)" opacity="0.55" filter="url(#bl)"/>
<rect x="141.7" y="242.50" width="12.40" height="1.4" fill="#7f9dd4" opacity="0.15" filter="url(#bl)"/>
<rect x="141.7" y="190.90" width="12.40" height="1.2" fill="#7f9dd4" opacity="0.2" filter="url(#bl)"/>
<rect x="159.2" y="203.8" width="13.50" height="4.60" rx="0.4" fill="url(#bandS)" opacity="1.0" filter="url(#bl)"/>
<rect x="159.2" y="224.9" width="13.50" height="4.10" rx="0.4" fill="url(#bandS)" opacity="1.0" filter="url(#bl)"/>
<rect x="159.7" y="230.70" width="12.50" height="1.6" fill="#7f9dd4" opacity="0.15" filter="url(#bl)"/>
<rect x="159.7" y="242.80" width="12.50" height="1.4" fill="#7f9dd4" opacity="0.12" filter="url(#bl)"/>
<rect x="159.7" y="263.30" width="12.50" height="1.4" fill="#7f9dd4" opacity="0.1" filter="url(#bl)"/>
<rect x="159.7" y="190.90" width="12.50" height="1.2" fill="#7f9dd4" opacity="0.2" filter="url(#bl)"/>
<path d="M52.0,189.70 L58.9,192.60 L52.0,195.50 L54.0,192.60 Z" fill="#231f20"/>
<path d="M52.0,202.70 L58.9,205.60 L52.0,208.50 L54.0,205.60 Z" fill="#231f20"/>
<path d="M52.0,220.70 L58.9,223.60 L52.0,226.50 L54.0,223.60 Z" fill="#231f20"/>
<path d="M52.0,228.10 L58.9,231.00 L52.0,233.90 L54.0,231.00 Z" fill="#231f20"/>
<path d="M52.0,261.30 L58.9,264.20 L52.0,267.10 L54.0,264.20 Z" fill="#231f20"/>
<text x="49.6" y="195.8" font-size="9.3" text-anchor="end" fill="#231f20" textLength="9.6" lengthAdjust="spacingAndGlyphs" stroke="#231f20" stroke-width="0.22">FH</text>
<text x="49.6" y="208.3" font-size="9.3" text-anchor="end" fill="#231f20" textLength="30.4" lengthAdjust="spacingAndGlyphs" stroke="#231f20" stroke-width="0.22">α'-chain</text>
<text x="49.6" y="226.9" font-size="9.3" text-anchor="end" fill="#231f20" textLength="28.0" lengthAdjust="spacingAndGlyphs" stroke="#231f20" stroke-width="0.22">β-chain</text>
<text x="49.6" y="236.1" font-size="9.3" text-anchor="end" fill="#231f20" textLength="25.5" lengthAdjust="spacingAndGlyphs" stroke="#231f20" stroke-width="0.22">68 kDa</text>
<text x="49.6" y="246.8" font-size="9.3" text-anchor="end" fill="#231f20" textLength="34.7" lengthAdjust="spacingAndGlyphs" stroke="#231f20" stroke-width="0.22">fragment</text>
<text x="49.6" y="266.8" font-size="9.3" text-anchor="end" fill="#231f20" textLength="38.1" lengthAdjust="spacingAndGlyphs" stroke="#231f20" stroke-width="0.22">43/46 kDa</text>
<text x="49.6" y="276.9" font-size="9.3" text-anchor="end" fill="#231f20" textLength="38.1" lengthAdjust="spacingAndGlyphs" stroke="#231f20" stroke-width="0.22">fragments</text>
<text x="181.3" y="173.1" font-size="8.8" text-anchor="start" fill="#231f20" textLength="15.0" lengthAdjust="spacingAndGlyphs" stroke="#231f20" stroke-width="0.22">kDa</text>
<line x1="179.9" y1="184.4" x2="182.6" y2="184.4" stroke="#231f20" stroke-width="0.8"/>
<text x="184.6" y="187.5" font-size="9.0" text-anchor="start" fill="#231f20" textLength="13.1" lengthAdjust="spacingAndGlyphs" stroke="#231f20" stroke-width="0.22">250</text>
<line x1="179.9" y1="195.2" x2="182.6" y2="195.2" stroke="#231f20" stroke-width="0.8"/>
<text x="184.6" y="198.29999999999998" font-size="9.0" text-anchor="start" fill="#231f20" textLength="13.1" lengthAdjust="spacingAndGlyphs" stroke="#231f20" stroke-width="0.22">150</text>
<line x1="179.9" y1="205.8" x2="182.6" y2="205.8" stroke="#231f20" stroke-width="0.8"/>
<text x="184.6" y="208.9" font-size="9.0" text-anchor="start" fill="#231f20" textLength="13.1" lengthAdjust="spacingAndGlyphs" stroke="#231f20" stroke-width="0.22">100</text>
<line x1="179.9" y1="217.1" x2="182.6" y2="217.1" stroke="#231f20" stroke-width="0.8"/>
<text x="186.0" y="220.2" font-size="9.0" text-anchor="start" fill="#231f20" textLength="9.3" lengthAdjust="spacingAndGlyphs" stroke="#231f20" stroke-width="0.22">75</text>
<line x1="179.9" y1="250.1" x2="182.6" y2="250.1" stroke="#231f20" stroke-width="0.8"/>
<text x="186.0" y="253.2" font-size="9.0" text-anchor="start" fill="#231f20" textLength="9.3" lengthAdjust="spacingAndGlyphs" stroke="#231f20" stroke-width="0.22">50</text>
<line x1="179.9" y1="278.7" x2="182.6" y2="278.7" stroke="#231f20" stroke-width="0.8"/>
<text x="186.0" y="281.8" font-size="9.0" text-anchor="start" fill="#231f20" textLength="9.3" lengthAdjust="spacingAndGlyphs" stroke="#231f20" stroke-width="0.22">37</text>
<text transform="translate(69.7,285.9) rotate(-90)" font-size="8.3" text-anchor="end" fill="#231f20" textLength="10.4" lengthAdjust="spacingAndGlyphs" stroke="#231f20" stroke-width="0.18">FH</text>
<text transform="translate(86.1,285.9) rotate(-90)" font-size="8.3" text-anchor="end" fill="#231f20" textLength="29.2" lengthAdjust="spacingAndGlyphs" stroke="#231f20" stroke-width="0.18">C3b + FI</text>
<text transform="translate(102.8,285.9) rotate(-90)" font-size="8.3" text-anchor="end" fill="#231f20" textLength="48.8" lengthAdjust="spacingAndGlyphs" stroke="#231f20" stroke-width="0.18">C3b + FI + FH</text>
<text transform="translate(119.3,287.0) rotate(-90)" font-size="8.3" text-anchor="end" fill="#231f20" textLength="42.0" lengthAdjust="spacingAndGlyphs" stroke="#231f20" stroke-width="0.18">+ IgG2a ctrl</text>
<text transform="translate(135.4,285.9) rotate(-90)" font-size="8.3" text-anchor="end" fill="#231f20" textLength="37.8" lengthAdjust="spacingAndGlyphs" stroke="#231f20" stroke-width="0.18">+ IgG1 ctrl</text>
<text transform="translate(152.2,287.0) rotate(-90)" font-size="8.3" text-anchor="end" fill="#231f20" textLength="43.0" lengthAdjust="spacingAndGlyphs" stroke="#231f20" stroke-width="0.18">+ anti-FH.07</text>
<text transform="translate(169.0,287.0) rotate(-90)" font-size="8.3" text-anchor="end" fill="#231f20" textLength="43.0" lengthAdjust="spacingAndGlyphs" stroke="#231f20" stroke-width="0.18">+ anti-FH.11</text>
<line x1="265.6" y1="180.3" x2="265.6" y2="252.7" stroke="#231f20" stroke-width="1.3"/>
<line x1="265.6" y1="262.7" x2="265.6" y2="292.2" stroke="#231f20" stroke-width="1.3"/>
<line x1="262.2" y1="252.7" x2="268.6" y2="252.7" stroke="#231f20" stroke-width="1.2"/>
<line x1="262.2" y1="262.9" x2="268.6" y2="262.9" stroke="#231f20" stroke-width="1.2"/>
<line x1="262.2" y1="291.6" x2="357.0" y2="291.6" stroke="#231f20" stroke-width="1.3"/>
<line x1="262.2" y1="183.5" x2="265.6" y2="183.5" stroke="#231f20" stroke-width="1.1"/>
<text x="258.8" y="186.4" font-size="8.2" text-anchor="end" fill="#231f20" stroke="#231f20" stroke-width="0.22">10.0</text>
<line x1="262.2" y1="206.6" x2="265.6" y2="206.6" stroke="#231f20" stroke-width="1.1"/>
<text x="258.8" y="209.5" font-size="8.2" text-anchor="end" fill="#231f20" stroke="#231f20" stroke-width="0.22">8.0</text>
<line x1="262.2" y1="229.7" x2="265.6" y2="229.7" stroke="#231f20" stroke-width="1.1"/>
<text x="258.8" y="232.6" font-size="8.2" text-anchor="end" fill="#231f20" stroke="#231f20" stroke-width="0.22">6.0</text>
<text x="258.8" y="255.6" font-size="8.2" text-anchor="end" fill="#231f20" stroke="#231f20" stroke-width="0.22">4.0</text>
<text x="258.8" y="265.8" font-size="8.2" text-anchor="end" fill="#231f20" stroke="#231f20" stroke-width="0.22">1.0</text>
<line x1="262.2" y1="277.25" x2="265.6" y2="277.25" stroke="#231f20" stroke-width="1.1"/>
<text x="258.8" y="280.15" font-size="8.2" text-anchor="end" fill="#231f20" stroke="#231f20" stroke-width="0.22">0.5</text>
<line x1="262.2" y1="291.6" x2="265.6" y2="291.6" stroke="#231f20" stroke-width="1.1"/>
<text x="258.8" y="294.5" font-size="8.2" text-anchor="end" fill="#231f20" stroke="#231f20" stroke-width="0.22">0.0</text>
<rect x="267.0" y="194.4725" width="8.0" height="58.22749999999999" fill="#9c3244"/>
<rect x="267.0" y="262.9" width="8.0" height="28.700000000000045" fill="#9c3244"/>
<line x1="271.0" y1="186.96499999999997" x2="271.0" y2="194.4725" stroke="#444" stroke-width="1.0"/>
<line x1="269.3" y1="186.96499999999997" x2="272.7" y2="186.96499999999997" stroke="#444" stroke-width="1.1"/>
<rect x="278.56" y="282.70300000000003" width="8.0" height="8.896999999999991" fill="#9c3244"/>
<line x1="282.56" y1="281.26800000000003" x2="282.56" y2="282.70300000000003" stroke="#444" stroke-width="1.0"/>
<line x1="280.86" y1="281.26800000000003" x2="284.26" y2="281.26800000000003" stroke="#444" stroke-width="1.1"/>
<rect x="290.12" y="284.999" width="8.0" height="6.600999999999999" fill="#9c3244"/>
<rect x="301.68" y="284.13800000000003" width="8.0" height="7.461999999999989" fill="#9c3244"/>
<rect x="313.24" y="282.99" width="8.0" height="8.610000000000014" fill="#9c3244"/>
<line x1="317.24" y1="282.416" x2="317.24" y2="282.99" stroke="#444" stroke-width="1.0"/>
<line x1="315.54" y1="282.416" x2="318.94" y2="282.416" stroke="#444" stroke-width="1.1"/>
<rect x="324.8" y="282.416" width="8.0" height="9.184000000000026" fill="#9c3244"/>
<line x1="328.8" y1="281.84200000000004" x2="328.8" y2="282.416" stroke="#444" stroke-width="1.0"/>
<line x1="327.1" y1="281.84200000000004" x2="330.5" y2="281.84200000000004" stroke="#444" stroke-width="1.1"/>
<rect x="336.36" y="284.425" width="8.0" height="7.175000000000011" fill="#9c3244"/>
<line x1="340.36" y1="283.851" x2="340.36" y2="284.425" stroke="#444" stroke-width="1.0"/>
<line x1="338.66" y1="283.851" x2="342.06" y2="283.851" stroke="#444" stroke-width="1.1"/>
<rect x="347.92" y="210.065" width="8.0" height="42.63499999999999" fill="#9c3244"/>
<rect x="347.92" y="262.9" width="8.0" height="28.700000000000045" fill="#9c3244"/>
<line x1="351.92" y1="203.7125" x2="351.92" y2="210.065" stroke="#444" stroke-width="1.0"/>
<line x1="350.22" y1="203.7125" x2="353.62" y2="203.7125" stroke="#444" stroke-width="1.1"/>
<line x1="269.3" y1="178.4" x2="279.2" y2="178.4" stroke="#6e6e6e" stroke-width="1.75"/>
<text x="274.25" y="178.20000000000002" font-size="9.0" text-anchor="middle" fill="#231f20" textLength="13.4" lengthAdjust="spacingAndGlyphs" stroke="#231f20" stroke-width="0.1">****</text>
<line x1="281.2" y1="195.8" x2="352.6" y2="195.8" stroke="#6e6e6e" stroke-width="1.75"/>
<text x="316.9" y="195.20000000000002" font-size="9.0" text-anchor="middle" fill="#231f20" textLength="13.4" lengthAdjust="spacingAndGlyphs" stroke="#231f20" stroke-width="0.1">****</text>
<line x1="281.2" y1="216.6" x2="339.0" y2="216.6" stroke="#6e6e6e" stroke-width="1.75"/>
<text x="310.1" y="213.6" font-size="7.8" text-anchor="middle" fill="#231f20" textLength="8.0" lengthAdjust="spacingAndGlyphs" stroke="#231f20" stroke-width="0.22">ns</text>
<line x1="281.2" y1="230.9" x2="327.0" y2="230.9" stroke="#6e6e6e" stroke-width="1.75"/>
<text x="304.1" y="227.9" font-size="7.8" text-anchor="middle" fill="#231f20" textLength="8.0" lengthAdjust="spacingAndGlyphs" stroke="#231f20" stroke-width="0.22">ns</text>
<line x1="281.2" y1="245.3" x2="315.5" y2="245.3" stroke="#6e6e6e" stroke-width="1.75"/>
<text x="298.35" y="242.3" font-size="7.8" text-anchor="middle" fill="#231f20" textLength="8.0" lengthAdjust="spacingAndGlyphs" stroke="#231f20" stroke-width="0.22">ns</text>
<line x1="280.8" y1="261.2" x2="304.6" y2="261.2" stroke="#6e6e6e" stroke-width="1.75"/>
<text x="292.70000000000005" y="258.2" font-size="7.8" text-anchor="middle" fill="#231f20" textLength="8.0" lengthAdjust="spacingAndGlyphs" stroke="#231f20" stroke-width="0.22">ns</text>
<line x1="280.8" y1="275.7" x2="293.1" y2="275.7" stroke="#6e6e6e" stroke-width="1.75"/>
<text x="286.95000000000005" y="272.7" font-size="7.8" text-anchor="middle" fill="#231f20" textLength="8.0" lengthAdjust="spacingAndGlyphs" stroke="#231f20" stroke-width="0.22">ns</text>
<text transform="translate(234.0,235.9) rotate(-90)" font-size="10.2" text-anchor="middle" fill="#231f20" textLength="49.5" lengthAdjust="spacingAndGlyphs" stroke="#231f20" stroke-width="0.22">C3b/c (μM)</text>
<text transform="translate(273.1,296.0) rotate(-90)" font-size="8.3" text-anchor="end" fill="#231f20" textLength="28.3" lengthAdjust="spacingAndGlyphs" stroke="#231f20" stroke-width="0.2">FH depl.</text>
<text transform="translate(284.6,296.0) rotate(-90)" font-size="8.3" text-anchor="end" fill="#231f20" textLength="29.7" lengthAdjust="spacingAndGlyphs" stroke="#231f20" stroke-width="0.2">NHS (RT)</text>
<text transform="translate(296.5,296.0) rotate(-90)" font-size="8.3" text-anchor="end" fill="#231f20" textLength="30.7" lengthAdjust="spacingAndGlyphs" stroke="#231f20" stroke-width="0.2">NHS (Ice)</text>
<text transform="translate(307.7,296.0) rotate(-90)" font-size="8.3" text-anchor="end" fill="#231f20" textLength="38.7" lengthAdjust="spacingAndGlyphs" stroke="#231f20" stroke-width="0.2">NHS (EDTA)</text>
<text transform="translate(319.3,296.0) rotate(-90)" font-size="8.3" text-anchor="end" fill="#231f20" textLength="35.7" lengthAdjust="spacingAndGlyphs" stroke="#231f20" stroke-width="0.2">+ IgG1 ctrl</text>
<text transform="translate(330.5,296.0) rotate(-90)" font-size="8.3" text-anchor="end" fill="#231f20" textLength="39.4" lengthAdjust="spacingAndGlyphs" stroke="#231f20" stroke-width="0.2">+ IgG2a ctrl</text>
<text transform="translate(342.4,296.0) rotate(-90)" font-size="8.3" text-anchor="end" fill="#231f20" textLength="42.1" lengthAdjust="spacingAndGlyphs" stroke="#231f20" stroke-width="0.2">+ anti-FH.07</text>
<text transform="translate(354.0,296.0) rotate(-90)" font-size="8.3" text-anchor="end" fill="#231f20" textLength="41.2" lengthAdjust="spacingAndGlyphs" stroke="#231f20" stroke-width="0.2">+ anti-FH.11</text>
<polyline points="71.4,435.00 76.3,435.00 76.4,434.34 76.5,433.69 76.6,433.05 76.7,432.43 76.7,431.81 76.8,431.21 76.9,430.62 77.0,430.04 77.1,429.47 77.2,428.92 77.3,428.37 77.4,427.83 77.5,427.31 77.6,426.79 77.6,426.28 77.7,425.79 77.8,425.30 77.9,424.82 78.0,424.35 78.1,423.89 78.2,423.44 78.3,423.00 78.4,422.56 78.4,422.13 78.5,421.71 78.6,421.30 78.7,420.90 78.8,420.50 78.9,420.12 79.0,419.73 79.1,419.36 79.2,418.99 79.3,418.63 79.3,418.28 79.4,417.93 79.5,417.59 79.6,417.26 79.7,416.93 79.8,416.61 79.9,416.29 80.2,415.08 80.6,413.96 81.0,412.92 81.3,411.95 81.7,411.05 82.0,410.21 82.4,409.44 82.7,408.71 83.1,408.04 83.5,407.41 83.8,406.82 84.2,406.28 84.5,405.77 84.9,405.29 85.2,404.84 85.6,404.43 86.0,404.04 86.3,403.68 86.7,403.33 87.0,403.01 88.1,402.17 89.2,401.46 90.3,400.87 91.3,400.37 92.4,399.94 93.5,399.58 94.6,399.26 95.6,398.98 96.7,398.73 97.8,398.51 98.9,398.31 99.9,398.13 101.0,397.97 102.1,397.82 103.1,397.68 104.2,397.55 105.3,397.43 106.4,397.31 107.4,397.21 108.5,397.11 109.6,397.02 110.7,396.93 111.7,396.84 112.8,396.77 113.9,396.69 115.0,396.62 116.0,396.55 117.1,396.49 118.2,396.43 119.3,396.37 120.3,396.31 121.4,396.26 122.5,396.21 123.6,396.16 124.6,396.12 125.7,396.08 126.8,396.03 127.9,396.00 128.9,395.96 130.0,395.92 131.8,395.07 133.6,395.32 135.4,395.57 137.2,395.83 138.9,396.08 140.7,396.32 142.5,396.57 144.3,396.82 146.1,397.06 147.9,397.30" fill="none" stroke="#3d5f93" stroke-width="1.45" stroke-linejoin="round"/>
<polyline points="71.4,435.00 76.3,435.00 76.4,434.22 76.5,433.45 76.6,432.71 76.7,431.98 76.7,431.27 76.8,430.58 76.9,429.90 77.0,429.24 77.1,428.59 77.2,427.96 77.3,427.35 77.4,426.75 77.5,426.16 77.6,425.59 77.6,425.03 77.7,424.48 77.8,423.95 77.9,423.43 78.0,422.92 78.1,422.43 78.2,421.94 78.3,421.47 78.4,421.01 78.4,420.56 78.5,420.12 78.6,419.68 78.7,419.26 78.8,418.85 78.9,418.45 79.0,418.06 79.1,417.68 79.2,417.31 79.3,416.94 79.3,416.59 79.4,416.24 79.5,415.90 79.6,415.57 79.7,415.24 79.8,414.92 79.9,414.61 80.2,413.44 80.6,412.38 81.0,411.40 81.3,410.52 81.7,409.70 82.0,408.96 82.4,408.28 82.7,407.66 83.1,407.09 83.5,406.57 83.8,406.09 84.2,405.65 84.5,405.24 84.9,404.87 85.2,404.52 85.6,404.20 86.0,403.91 86.3,403.63 86.7,403.38 87.0,403.14 88.1,402.53 89.2,402.03 90.3,401.61 91.3,401.26 92.4,400.96 93.5,400.70 94.6,400.47 95.6,400.26 96.7,400.08 97.8,399.91 98.9,399.75 99.9,399.61 101.0,399.47 102.1,399.34 103.1,399.23 104.2,399.11 105.3,399.01 106.4,398.91 107.4,398.81 108.5,398.72 109.6,398.64 110.7,398.56 111.7,398.48 112.8,398.40 113.9,398.33 115.0,398.27 116.0,398.20 117.1,398.14 118.2,398.09 119.3,398.03 120.3,397.98 121.4,397.93 122.5,397.88 123.6,397.84 124.6,397.79 125.7,397.75 126.8,397.71 127.9,397.67 128.9,397.64 130.0,397.61 131.8,397.84 133.6,398.08 135.4,398.32 137.2,398.55 138.9,398.78 140.7,399.01 142.5,399.24 144.3,399.47 146.1,399.70 147.9,399.92" fill="none" stroke="#b2263f" stroke-width="1.45" stroke-linejoin="round"/>
<polyline points="71.4,435.00 76.3,435.00 76.4,434.65 76.5,434.30 76.6,433.95 76.7,433.61 76.7,433.28 76.8,432.94 76.9,432.61 77.0,432.28 77.1,431.96 77.2,431.64 77.3,431.32 77.4,431.01 77.5,430.70 77.6,430.39 77.6,430.09 77.7,429.79 77.8,429.49 77.9,429.19 78.0,428.90 78.1,428.61 78.2,428.33 78.3,428.04 78.4,427.76 78.4,427.49 78.5,427.21 78.6,426.94 78.7,426.67 78.8,426.41 78.9,426.14 79.0,425.88 79.1,425.62 79.2,425.37 79.3,425.12 79.3,424.87 79.4,424.62 79.5,424.38 79.6,424.13 79.7,423.89 79.8,423.66 79.9,423.42 80.2,422.51 80.6,421.63 81.0,420.78 81.3,419.97 81.7,419.20 82.0,418.45 82.4,417.74 82.7,417.05 83.1,416.39 83.5,415.76 83.8,415.15 84.2,414.56 84.5,414.00 84.9,413.46 85.2,412.95 85.6,412.45 86.0,411.97 86.3,411.51 86.7,411.07 87.0,410.65 88.1,409.47 89.2,408.43 90.3,407.50 91.3,406.68 92.4,405.94 93.5,405.28 94.6,404.70 95.6,404.17 96.7,403.70 97.8,403.28 98.9,402.90 99.9,402.56 101.0,402.25 102.1,401.97 103.1,401.72 104.2,401.49 105.3,401.29 106.4,401.10 107.4,400.93 108.5,400.77 109.6,400.63 110.7,400.49 111.7,400.37 112.8,400.26 113.9,400.16 115.0,400.06 116.0,399.97 117.1,399.89 118.2,399.81 119.3,399.74 120.3,399.67 121.4,399.61 122.5,399.55 123.6,399.49 124.6,399.44 125.7,399.39 126.8,399.34 127.9,399.30 128.9,399.26 130.0,399.22 131.8,398.62 133.6,398.85 135.4,399.08 137.2,399.31 138.9,399.54 140.7,399.76 142.5,399.99 144.3,400.21 146.1,400.43 147.9,400.65" fill="none" stroke="#3d5f93" stroke-width="1.45" stroke-linejoin="round"/>
<polyline points="71.4,435.00 76.3,435.00 76.4,434.61 76.5,434.22 76.6,433.83 76.7,433.46 76.7,433.08 76.8,432.71 76.9,432.34 77.0,431.98 77.1,431.62 77.2,431.27 77.3,430.92 77.4,430.57 77.5,430.23 77.6,429.89 77.6,429.56 77.7,429.23 77.8,428.90 77.9,428.58 78.0,428.26 78.1,427.94 78.2,427.63 78.3,427.32 78.4,427.02 78.4,426.72 78.5,426.42 78.6,426.13 78.7,425.84 78.8,425.55 78.9,425.26 79.0,424.98 79.1,424.71 79.2,424.43 79.3,424.16 79.3,423.89 79.4,423.63 79.5,423.36 79.6,423.10 79.7,422.85 79.8,422.60 79.9,422.34 80.2,421.37 80.6,420.44 81.0,419.55 81.3,418.70 81.7,417.89 82.0,417.12 82.4,416.38 82.7,415.67 83.1,414.99 83.5,414.34 83.8,413.73 84.2,413.14 84.5,412.57 84.9,412.03 85.2,411.51 85.6,411.02 86.0,410.55 86.3,410.09 86.7,409.66 87.0,409.25 88.1,408.11 89.2,407.10 90.3,406.23 91.3,405.45 92.4,404.77 93.5,404.17 94.6,403.63 95.6,403.16 96.7,402.74 97.8,402.37 98.9,402.03 99.9,401.74 101.0,401.47 102.1,401.23 103.1,401.01 104.2,400.82 105.3,400.64 106.4,400.48 107.4,400.33 108.5,400.20 109.6,400.07 110.7,399.96 111.7,399.86 112.8,399.76 113.9,399.67 115.0,399.59 116.0,399.51 117.1,399.44 118.2,399.37 119.3,399.31 120.3,399.25 121.4,399.19 122.5,399.14 123.6,399.08 124.6,399.04 125.7,398.99 126.8,398.95 127.9,398.91 128.9,398.87 130.0,398.83 131.8,399.06 133.6,399.29 135.4,399.52 137.2,399.74 138.9,399.97 140.7,400.19 142.5,400.42 144.3,400.64 146.1,400.86 147.9,401.07" fill="none" stroke="#b2263f" stroke-width="1.45" stroke-linejoin="round"/>
<polyline points="71.4,435.00 76.3,435.00 76.4,434.80 76.5,434.60 76.6,434.41 76.7,434.21 76.7,434.02 76.8,433.83 76.9,433.64 77.0,433.45 77.1,433.26 77.2,433.07 77.3,432.89 77.4,432.70 77.5,432.52 77.6,432.34 77.6,432.15 77.7,431.97 77.8,431.79 77.9,431.62 78.0,431.44 78.1,431.26 78.2,431.09 78.3,430.92 78.4,430.74 78.4,430.57 78.5,430.40 78.6,430.23 78.7,430.07 78.8,429.90 78.9,429.73 79.0,429.57 79.1,429.41 79.2,429.24 79.3,429.08 79.3,428.92 79.4,428.76 79.5,428.61 79.6,428.45 79.7,428.29 79.8,428.14 79.9,427.98 80.2,427.37 80.6,426.78 81.0,426.21 81.3,425.64 81.7,425.10 82.0,424.56 82.4,424.04 82.7,423.54 83.1,423.04 83.5,422.56 83.8,422.09 84.2,421.64 84.5,421.19 84.9,420.76 85.2,420.33 85.6,419.92 86.0,419.52 86.3,419.13 86.7,418.75 87.0,418.38 88.1,417.32 89.2,416.34 90.3,415.43 91.3,414.59 92.4,413.82 93.5,413.10 94.6,412.43 95.6,411.82 96.7,411.25 97.8,410.72 98.9,410.23 99.9,409.78 101.0,409.36 102.1,408.98 103.1,408.62 104.2,408.29 105.3,407.98 106.4,407.70 107.4,407.44 108.5,407.19 109.6,406.97 110.7,406.76 111.7,406.57 112.8,406.39 113.9,406.22 115.0,406.07 116.0,405.93 117.1,405.80 118.2,405.68 119.3,405.57 120.3,405.46 121.4,405.37 122.5,405.28 123.6,405.20 124.6,405.12 125.7,405.05 126.8,404.99 127.9,404.93 128.9,404.87 130.0,404.82 131.8,403.91 133.6,404.11 135.4,404.30 137.2,404.50 138.9,404.69 140.7,404.89 142.5,405.08 144.3,405.27 146.1,405.46 147.9,405.65" fill="none" stroke="#3d5f93" stroke-width="1.45" stroke-linejoin="round"/>
<polyline points="71.4,435.00 76.3,435.00 76.4,434.77 76.5,434.55 76.6,434.32 76.7,434.10 76.7,433.88 76.8,433.66 76.9,433.44 77.0,433.23 77.1,433.01 77.2,432.80 77.3,432.59 77.4,432.38 77.5,432.17 77.6,431.96 77.6,431.75 77.7,431.55 77.8,431.34 77.9,431.14 78.0,430.94 78.1,430.74 78.2,430.54 78.3,430.35 78.4,430.15 78.4,429.96 78.5,429.76 78.6,429.57 78.7,429.38 78.8,429.19 78.9,429.00 79.0,428.82 79.1,428.63 79.2,428.45 79.3,428.27 79.3,428.09 79.4,427.91 79.5,427.73 79.6,427.55 79.7,427.37 79.8,427.20 79.9,427.02 80.2,426.34 80.6,425.67 81.0,425.02 81.3,424.39 81.7,423.78 82.0,423.18 82.4,422.60 82.7,422.03 83.1,421.48 83.5,420.94 83.8,420.42 84.2,419.92 84.5,419.42 84.9,418.94 85.2,418.47 85.6,418.02 86.0,417.57 86.3,417.14 86.7,416.72 87.0,416.31 88.1,415.15 89.2,414.08 90.3,413.10 91.3,412.19 92.4,411.35 93.5,410.58 94.6,409.87 95.6,409.21 96.7,408.61 97.8,408.05 98.9,407.54 99.9,407.06 101.0,406.63 102.1,406.23 103.1,405.86 104.2,405.52 105.3,405.20 106.4,404.91 107.4,404.64 108.5,404.40 109.6,404.17 110.7,403.96 111.7,403.77 112.8,403.59 113.9,403.43 115.0,403.28 116.0,403.14 117.1,403.01 118.2,402.89 119.3,402.78 120.3,402.68 121.4,402.59 122.5,402.50 123.6,402.43 124.6,402.35 125.7,402.29 126.8,402.22 127.9,402.17 128.9,402.12 130.0,402.07 131.8,402.28 133.6,402.49 135.4,402.69 137.2,402.90 138.9,403.10 140.7,403.31 142.5,403.51 144.3,403.71 146.1,403.91 147.9,404.11" fill="none" stroke="#b2263f" stroke-width="1.45" stroke-linejoin="round"/>
<polyline points="71.4,435.00 76.3,435.00 76.4,434.89 76.5,434.77 76.6,434.66 76.7,434.55 76.7,434.44 76.8,434.32 76.9,434.21 77.0,434.10 77.1,433.99 77.2,433.89 77.3,433.78 77.4,433.67 77.5,433.56 77.6,433.46 77.6,433.35 77.7,433.25 77.8,433.14 77.9,433.04 78.0,432.93 78.1,432.83 78.2,432.73 78.3,432.63 78.4,432.52 78.4,432.42 78.5,432.32 78.6,432.22 78.7,432.12 78.8,432.02 78.9,431.93 79.0,431.83 79.1,431.73 79.2,431.63 79.3,431.54 79.3,431.44 79.4,431.35 79.5,431.25 79.6,431.16 79.7,431.06 79.8,430.97 79.9,430.88 80.2,430.51 80.6,430.15 81.0,429.80 81.3,429.46 81.7,429.12 82.0,428.80 82.4,428.47 82.7,428.16 83.1,427.85 83.5,427.55 83.8,427.25 84.2,426.96 84.5,426.68 84.9,426.40 85.2,426.13 85.6,425.86 86.0,425.60 86.3,425.35 86.7,425.10 87.0,424.85 88.1,424.15 89.2,423.49 90.3,422.88 91.3,422.30 92.4,421.75 93.5,421.24 94.6,420.76 95.6,420.31 96.7,419.89 97.8,419.50 98.9,419.13 99.9,418.78 101.0,418.45 102.1,418.14 103.1,417.86 104.2,417.59 105.3,417.33 106.4,417.10 107.4,416.87 108.5,416.67 109.6,416.47 110.7,416.29 111.7,416.11 112.8,415.95 113.9,415.80 115.0,415.66 116.0,415.52 117.1,415.40 118.2,415.28 119.3,415.17 120.3,415.07 121.4,414.97 122.5,414.88 123.6,414.79 124.6,414.71 125.7,414.64 126.8,414.57 127.9,414.50 128.9,414.44 130.0,414.38 131.8,413.13 133.6,413.27 135.4,413.41 137.2,413.55 138.9,413.69 140.7,413.82 142.5,413.96 144.3,414.09 146.1,414.22 147.9,414.36" fill="none" stroke="#3d5f93" stroke-width="1.45" stroke-linejoin="round"/>
<polyline points="71.4,435.00 76.3,435.00 76.4,434.86 76.5,434.72 76.6,434.59 76.7,434.45 76.7,434.32 76.8,434.18 76.9,434.05 77.0,433.92 77.1,433.79 77.2,433.65 77.3,433.52 77.4,433.39 77.5,433.26 77.6,433.14 77.6,433.01 77.7,432.88 77.8,432.76 77.9,432.63 78.0,432.51 78.1,432.38 78.2,432.26 78.3,432.14 78.4,432.01 78.4,431.89 78.5,431.77 78.6,431.65 78.7,431.53 78.8,431.41 78.9,431.30 79.0,431.18 79.1,431.06 79.2,430.95 79.3,430.83 79.3,430.72 79.4,430.60 79.5,430.49 79.6,430.37 79.7,430.26 79.8,430.15 79.9,430.04 80.2,429.60 80.6,429.17 81.0,428.76 81.3,428.35 81.7,427.95 82.0,427.56 82.4,427.17 82.7,426.80 83.1,426.43 83.5,426.08 83.8,425.73 84.2,425.38 84.5,425.05 84.9,424.72 85.2,424.40 85.6,424.09 86.0,423.78 86.3,423.49 86.7,423.19 87.0,422.91 88.1,422.09 89.2,421.32 90.3,420.60 91.3,419.93 92.4,419.31 93.5,418.72 94.6,418.17 95.6,417.66 96.7,417.18 97.8,416.73 98.9,416.31 99.9,415.92 101.0,415.55 102.1,415.21 103.1,414.89 104.2,414.59 105.3,414.31 106.4,414.05 107.4,413.81 108.5,413.58 109.6,413.36 110.7,413.16 111.7,412.98 112.8,412.80 113.9,412.64 115.0,412.49 116.0,412.34 117.1,412.21 118.2,412.08 119.3,411.97 120.3,411.86 121.4,411.76 122.5,411.66 123.6,411.57 124.6,411.49 125.7,411.41 126.8,411.34 127.9,411.27 128.9,411.20 130.0,411.14 131.8,411.30 133.6,411.45 135.4,411.60 137.2,411.75 138.9,411.90 140.7,412.04 142.5,412.19 144.3,412.33 146.1,412.48 147.9,412.62" fill="none" stroke="#b2263f" stroke-width="1.45" stroke-linejoin="round"/>
<polyline points="71.4,435.00 76.3,435.00 76.4,434.93 76.5,434.86 76.6,434.79 76.7,434.73 76.7,434.66 76.8,434.59 76.9,434.52 77.0,434.46 77.1,434.39 77.2,434.32 77.3,434.26 77.4,434.19 77.5,434.13 77.6,434.06 77.6,434.00 77.7,433.93 77.8,433.87 77.9,433.80 78.0,433.74 78.1,433.67 78.2,433.61 78.3,433.55 78.4,433.49 78.4,433.42 78.5,433.36 78.6,433.30 78.7,433.24 78.8,433.17 78.9,433.11 79.0,433.05 79.1,432.99 79.2,432.93 79.3,432.87 79.3,432.81 79.4,432.75 79.5,432.69 79.6,432.63 79.7,432.57 79.8,432.51 79.9,432.45 80.2,432.22 80.6,431.99 81.0,431.76 81.3,431.54 81.7,431.32 82.0,431.11 82.4,430.90 82.7,430.69 83.1,430.48 83.5,430.28 83.8,430.08 84.2,429.89 84.5,429.69 84.9,429.50 85.2,429.32 85.6,429.13 86.0,428.95 86.3,428.78 86.7,428.60 87.0,428.43 88.1,427.93 89.2,427.45 90.3,427.00 91.3,426.57 92.4,426.15 93.5,425.76 94.6,425.39 95.6,425.03 96.7,424.69 97.8,424.36 98.9,424.05 99.9,423.76 101.0,423.48 102.1,423.21 103.1,422.96 104.2,422.71 105.3,422.48 106.4,422.26 107.4,422.05 108.5,421.85 109.6,421.66 110.7,421.47 111.7,421.30 112.8,421.13 113.9,420.98 115.0,420.83 116.0,420.68 117.1,420.55 118.2,420.42 119.3,420.29 120.3,420.17 121.4,420.06 122.5,419.95 123.6,419.85 124.6,419.75 125.7,419.66 126.8,419.57 127.9,419.49 128.9,419.40 130.0,419.33 131.8,419.15 133.6,419.25 135.4,419.35 137.2,419.45 138.9,419.55 140.7,419.65 142.5,419.75 144.3,419.85 146.1,419.94 147.9,420.04" fill="none" stroke="#3d5f93" stroke-width="1.45" stroke-linejoin="round"/>
<polyline points="71.4,435.00 76.3,435.00 76.4,434.93 76.5,434.86 76.6,434.79 76.7,434.73 76.7,434.66 76.8,434.59 76.9,434.52 77.0,434.46 77.1,434.39 77.2,434.32 77.3,434.26 77.4,434.19 77.5,434.13 77.6,434.06 77.6,434.00 77.7,433.93 77.8,433.87 77.9,433.80 78.0,433.74 78.1,433.67 78.2,433.61 78.3,433.55 78.4,433.49 78.4,433.42 78.5,433.36 78.6,433.30 78.7,433.24 78.8,433.17 78.9,433.11 79.0,433.05 79.1,432.99 79.2,432.93 79.3,432.87 79.3,432.81 79.4,432.75 79.5,432.69 79.6,432.63 79.7,432.57 79.8,432.51 79.9,432.45 80.2,432.22 80.6,431.99 81.0,431.76 81.3,431.54 81.7,431.32 82.0,431.11 82.4,430.90 82.7,430.69 83.1,430.48 83.5,430.28 83.8,430.08 84.2,429.89 84.5,429.69 84.9,429.50 85.2,429.32 85.6,429.13 86.0,428.95 86.3,428.78 86.7,428.60 87.0,428.43 88.1,427.93 89.2,427.45 90.3,427.00 91.3,426.57 92.4,426.15 93.5,425.76 94.6,425.39 95.6,425.03 96.7,424.69 97.8,424.36 98.9,424.05 99.9,423.76 101.0,423.48 102.1,423.21 103.1,422.96 104.2,422.71 105.3,422.48 106.4,422.26 107.4,422.05 108.5,421.85 109.6,421.66 110.7,421.47 111.7,421.30 112.8,421.13 113.9,420.98 115.0,420.83 116.0,420.68 117.1,420.55 118.2,420.42 119.3,420.29 120.3,420.17 121.4,420.06 122.5,419.95 123.6,419.85 124.6,419.75 125.7,419.66 126.8,419.57 127.9,419.49 128.9,419.40 130.0,419.33 131.8,419.43 133.6,419.53 135.4,419.63 137.2,419.72 138.9,419.82 140.7,419.92 142.5,420.01 144.3,420.11 146.1,420.20 147.9,420.30" fill="none" stroke="#b2263f" stroke-width="1.45" stroke-linejoin="round"/>
<polyline points="71.4,435.00 76.3,435.00 76.4,434.97 76.5,434.93 76.6,434.90 76.7,434.87 76.7,434.84 76.8,434.80 76.9,434.77 77.0,434.74 77.1,434.71 77.2,434.68 77.3,434.64 77.4,434.61 77.5,434.58 77.6,434.55 77.6,434.52 77.7,434.49 77.8,434.45 77.9,434.42 78.0,434.39 78.1,434.36 78.2,434.33 78.3,434.30 78.4,434.27 78.4,434.24 78.5,434.21 78.6,434.18 78.7,434.15 78.8,434.12 78.9,434.09 79.0,434.06 79.1,434.03 79.2,434.00 79.3,433.97 79.3,433.94 79.4,433.91 79.5,433.88 79.6,433.85 79.7,433.82 79.8,433.80 79.9,433.77 80.2,433.65 80.6,433.54 81.0,433.43 81.3,433.32 81.7,433.21 82.0,433.11 82.4,433.00 82.7,432.90 83.1,432.80 83.5,432.70 83.8,432.60 84.2,432.50 84.5,432.40 84.9,432.31 85.2,432.21 85.6,432.12 86.0,432.03 86.3,431.94 86.7,431.85 87.0,431.76 88.1,431.51 89.2,431.26 90.3,431.03 91.3,430.80 92.4,430.59 93.5,430.38 94.6,430.18 95.6,429.99 96.7,429.81 97.8,429.64 98.9,429.47 99.9,429.31 101.0,429.15 102.1,429.01 103.1,428.86 104.2,428.73 105.3,428.60 106.4,428.47 107.4,428.35 108.5,428.24 109.6,428.13 110.7,428.02 111.7,427.92 112.8,427.83 113.9,427.73 115.0,427.64 116.0,427.56 117.1,427.48 118.2,427.40 119.3,427.32 120.3,427.25 121.4,427.18 122.5,427.11 123.6,427.05 124.6,426.99 125.7,426.93 126.8,426.87 127.9,426.82 128.9,426.77 130.0,426.72 131.8,426.63 133.6,426.69 135.4,426.74 137.2,426.79 138.9,426.84 140.7,426.90 142.5,426.95 144.3,427.00 146.1,427.05 147.9,427.10" fill="none" stroke="#3d5f93" stroke-width="1.45" stroke-linejoin="round"/>
<polyline points="71.4,435.00 76.3,435.00 76.4,434.97 76.5,434.93 76.6,434.90 76.7,434.86 76.7,434.83 76.8,434.80 76.9,434.76 77.0,434.73 77.1,434.70 77.2,434.67 77.3,434.63 77.4,434.60 77.5,434.57 77.6,434.53 77.6,434.50 77.7,434.47 77.8,434.44 77.9,434.41 78.0,434.37 78.1,434.34 78.2,434.31 78.3,434.28 78.4,434.25 78.4,434.22 78.5,434.18 78.6,434.15 78.7,434.12 78.8,434.09 78.9,434.06 79.0,434.03 79.1,434.00 79.2,433.97 79.3,433.94 79.3,433.91 79.4,433.88 79.5,433.85 79.6,433.82 79.7,433.79 79.8,433.76 79.9,433.73 80.2,433.61 80.6,433.50 81.0,433.38 81.3,433.27 81.7,433.16 82.0,433.05 82.4,432.94 82.7,432.83 83.1,432.73 83.5,432.62 83.8,432.52 84.2,432.42 84.5,432.32 84.9,432.22 85.2,432.13 85.6,432.03 86.0,431.94 86.3,431.84 86.7,431.75 87.0,431.66 88.1,431.40 89.2,431.15 90.3,430.91 91.3,430.67 92.4,430.45 93.5,430.24 94.6,430.03 95.6,429.84 96.7,429.65 97.8,429.47 98.9,429.30 99.9,429.13 101.0,428.97 102.1,428.82 103.1,428.67 104.2,428.53 105.3,428.40 106.4,428.27 107.4,428.15 108.5,428.03 109.6,427.92 110.7,427.81 111.7,427.70 112.8,427.60 113.9,427.51 115.0,427.42 116.0,427.33 117.1,427.24 118.2,427.16 119.3,427.08 120.3,427.01 121.4,426.94 122.5,426.87 123.6,426.80 124.6,426.74 125.7,426.68 126.8,426.62 127.9,426.57 128.9,426.51 130.0,426.46 131.8,426.52 133.6,426.57 135.4,426.62 137.2,426.68 138.9,426.73 140.7,426.78 142.5,426.84 144.3,426.89 146.1,426.94 147.9,426.99" fill="none" stroke="#b2263f" stroke-width="1.45" stroke-linejoin="round"/>
<polyline points="71.4,435.00 76.3,435.00 76.4,434.98 76.5,434.97 76.6,434.96 76.7,434.94 76.7,434.93 76.8,434.91 76.9,434.90 77.0,434.88 77.1,434.87 77.2,434.85 77.3,434.84 77.4,434.82 77.5,434.81 77.6,434.79 77.6,434.78 77.7,434.76 77.8,434.75 77.9,434.74 78.0,434.72 78.1,434.71 78.2,434.69 78.3,434.68 78.4,434.67 78.4,434.65 78.5,434.64 78.6,434.62 78.7,434.61 78.8,434.60 78.9,434.58 79.0,434.57 79.1,434.55 79.2,434.54 79.3,434.53 79.3,434.51 79.4,434.50 79.5,434.49 79.6,434.47 79.7,434.46 79.8,434.45 79.9,434.43 80.2,434.38 80.6,434.33 81.0,434.28 81.3,434.22 81.7,434.17 82.0,434.12 82.4,434.07 82.7,434.03 83.1,433.98 83.5,433.93 83.8,433.88 84.2,433.84 84.5,433.79 84.9,433.74 85.2,433.70 85.6,433.66 86.0,433.61 86.3,433.57 86.7,433.53 87.0,433.48 88.1,433.36 89.2,433.24 90.3,433.12 91.3,433.01 92.4,432.91 93.5,432.80 94.6,432.70 95.6,432.61 96.7,432.51 97.8,432.42 98.9,432.34 99.9,432.25 101.0,432.17 102.1,432.10 103.1,432.02 104.2,431.95 105.3,431.88 106.4,431.81 107.4,431.75 108.5,431.69 109.6,431.63 110.7,431.57 111.7,431.51 112.8,431.46 113.9,431.41 115.0,431.36 116.0,431.31 117.1,431.26 118.2,431.21 119.3,431.17 120.3,431.13 121.4,431.09 122.5,431.05 123.6,431.01 124.6,430.98 125.7,430.94 126.8,430.91 127.9,430.87 128.9,430.84 130.0,430.81 131.8,430.84 133.6,430.86 135.4,430.89 137.2,430.92 138.9,430.94 140.7,430.97 142.5,431.00 144.3,431.02 146.1,431.05 147.9,431.07" fill="none" stroke="#3d5f93" stroke-width="1.45" stroke-linejoin="round"/>
<polyline points="71.4,435.00 76.3,435.00 76.4,434.98 76.5,434.97 76.6,434.95 76.7,434.94 76.7,434.92 76.8,434.91 76.9,434.89 77.0,434.87 77.1,434.86 77.2,434.84 77.3,434.83 77.4,434.81 77.5,434.80 77.6,434.78 77.6,434.77 77.7,434.75 77.8,434.74 77.9,434.72 78.0,434.71 78.1,434.69 78.2,434.68 78.3,434.66 78.4,434.65 78.4,434.63 78.5,434.62 78.6,434.60 78.7,434.59 78.8,434.57 78.9,434.56 79.0,434.55 79.1,434.53 79.2,434.52 79.3,434.50 79.3,434.49 79.4,434.47 79.5,434.46 79.6,434.45 79.7,434.43 79.8,434.42 79.9,434.40 80.2,434.35 80.6,434.29 81.0,434.24 81.3,434.18 81.7,434.13 82.0,434.08 82.4,434.03 82.7,433.97 83.1,433.92 83.5,433.87 83.8,433.82 84.2,433.77 84.5,433.73 84.9,433.68 85.2,433.63 85.6,433.58 86.0,433.54 86.3,433.49 86.7,433.45 87.0,433.40 88.1,433.27 89.2,433.15 90.3,433.03 91.3,432.91 92.4,432.80 93.5,432.69 94.6,432.58 95.6,432.48 96.7,432.38 97.8,432.29 98.9,432.20 99.9,432.11 101.0,432.03 102.1,431.94 103.1,431.87 104.2,431.79 105.3,431.72 106.4,431.65 107.4,431.58 108.5,431.51 109.6,431.45 110.7,431.39 111.7,431.33 112.8,431.27 113.9,431.22 115.0,431.16 116.0,431.11 117.1,431.06 118.2,431.02 119.3,430.97 120.3,430.93 121.4,430.88 122.5,430.84 123.6,430.80 124.6,430.76 125.7,430.73 126.8,430.69 127.9,430.66 128.9,430.62 130.0,430.59 131.8,430.62 133.6,430.65 135.4,430.67 137.2,430.70 138.9,430.73 140.7,430.76 142.5,430.78 144.3,430.81 146.1,430.84 147.9,430.86" fill="none" stroke="#b2263f" stroke-width="1.45" stroke-linejoin="round"/>
<polyline points="71.4,435.00 76.3,435.00 76.4,434.99 76.5,434.99 76.6,434.98 76.7,434.97 76.7,434.97 76.8,434.96 76.9,434.95 77.0,434.95 77.1,434.94 77.2,434.94 77.3,434.93 77.4,434.92 77.5,434.92 77.6,434.91 77.6,434.90 77.7,434.90 77.8,434.89 77.9,434.89 78.0,434.88 78.1,434.87 78.2,434.87 78.3,434.86 78.4,434.85 78.4,434.85 78.5,434.84 78.6,434.84 78.7,434.83 78.8,434.82 78.9,434.82 79.0,434.81 79.1,434.81 79.2,434.80 79.3,434.79 79.3,434.79 79.4,434.78 79.5,434.78 79.6,434.77 79.7,434.76 79.8,434.76 79.9,434.75 80.2,434.73 80.6,434.70 81.0,434.68 81.3,434.66 81.7,434.64 82.0,434.61 82.4,434.59 82.7,434.57 83.1,434.55 83.5,434.53 83.8,434.51 84.2,434.48 84.5,434.46 84.9,434.44 85.2,434.42 85.6,434.40 86.0,434.38 86.3,434.36 86.7,434.34 87.0,434.32 88.1,434.27 89.2,434.21 90.3,434.16 91.3,434.10 92.4,434.05 93.5,434.00 94.6,433.96 95.6,433.91 96.7,433.86 97.8,433.82 98.9,433.78 99.9,433.74 101.0,433.70 102.1,433.66 103.1,433.62 104.2,433.58 105.3,433.55 106.4,433.51 107.4,433.48 108.5,433.45 109.6,433.42 110.7,433.39 111.7,433.36 112.8,433.33 113.9,433.30 115.0,433.27 116.0,433.25 117.1,433.22 118.2,433.20 119.3,433.17 120.3,433.15 121.4,433.13 122.5,433.11 123.6,433.08 124.6,433.06 125.7,433.04 126.8,433.02 127.9,433.01 128.9,432.99 130.0,432.97 131.8,432.98 133.6,433.00 135.4,433.01 137.2,433.02 138.9,433.03 140.7,433.05 142.5,433.06 144.3,433.07 146.1,433.08 147.9,433.10" fill="none" stroke="#3d5f93" stroke-width="1.45" stroke-linejoin="round"/>
<polyline points="71.4,435.00 76.3,435.00 76.4,434.99 76.5,434.99 76.6,434.98 76.7,434.97 76.7,434.97 76.8,434.96 76.9,434.95 77.0,434.94 77.1,434.94 77.2,434.93 77.3,434.92 77.4,434.92 77.5,434.91 77.6,434.90 77.6,434.90 77.7,434.89 77.8,434.88 77.9,434.88 78.0,434.87 78.1,434.86 78.2,434.86 78.3,434.85 78.4,434.84 78.4,434.84 78.5,434.83 78.6,434.83 78.7,434.82 78.8,434.81 78.9,434.81 79.0,434.80 79.1,434.79 79.2,434.79 79.3,434.78 79.3,434.77 79.4,434.77 79.5,434.76 79.6,434.75 79.7,434.75 79.8,434.74 79.9,434.74 80.2,434.71 80.6,434.69 81.0,434.66 81.3,434.64 81.7,434.61 82.0,434.59 82.4,434.57 82.7,434.54 83.1,434.52 83.5,434.50 83.8,434.47 84.2,434.45 84.5,434.43 84.9,434.41 85.2,434.39 85.6,434.36 86.0,434.34 86.3,434.32 86.7,434.30 87.0,434.28 88.1,434.22 89.2,434.16 90.3,434.10 91.3,434.05 92.4,433.99 93.5,433.94 94.6,433.89 95.6,433.84 96.7,433.79 97.8,433.75 98.9,433.70 99.9,433.66 101.0,433.61 102.1,433.57 103.1,433.53 104.2,433.49 105.3,433.46 106.4,433.42 107.4,433.38 108.5,433.35 109.6,433.32 110.7,433.28 111.7,433.25 112.8,433.22 113.9,433.19 115.0,433.16 116.0,433.14 117.1,433.11 118.2,433.08 119.3,433.06 120.3,433.03 121.4,433.01 122.5,432.99 123.6,432.96 124.6,432.94 125.7,432.92 126.8,432.90 127.9,432.88 128.9,432.86 130.0,432.84 131.8,432.85 133.6,432.87 135.4,432.88 137.2,432.89 138.9,432.91 140.7,432.92 142.5,432.93 144.3,432.95 146.1,432.96 147.9,432.97" fill="none" stroke="#b2263f" stroke-width="1.45" stroke-linejoin="round"/>
<line x1="71.1" y1="390.5" x2="71.1" y2="436.8" stroke="#231f20" stroke-width="1.3"/>
<line x1="70.5" y1="436.3" x2="151.5" y2="436.3" stroke="#231f20" stroke-width="1.3"/>
<line x1="68.3" y1="435.0" x2="71.1" y2="435.0" stroke="#231f20" stroke-width="1.1"/>
<text x="63.8" y="438.3" font-size="9.5" text-anchor="end" fill="#231f20" textLength="4.6" lengthAdjust="spacingAndGlyphs" stroke="#231f20" stroke-width="0.22">0</text>
<line x1="68.3" y1="421.1" x2="71.1" y2="421.1" stroke="#231f20" stroke-width="1.1"/>
<text x="63.8" y="424.40000000000003" font-size="9.5" text-anchor="end" fill="#231f20" textLength="8.8" lengthAdjust="spacingAndGlyphs" stroke="#231f20" stroke-width="0.22">50</text>
<line x1="68.3" y1="407.4" x2="71.1" y2="407.4" stroke="#231f20" stroke-width="1.1"/>
<text x="63.8" y="410.7" font-size="9.5" text-anchor="end" fill="#231f20" textLength="12.9" lengthAdjust="spacingAndGlyphs" stroke="#231f20" stroke-width="0.22">100</text>
<line x1="68.3" y1="393.3" x2="71.1" y2="393.3" stroke="#231f20" stroke-width="1.1"/>
<text x="63.8" y="396.6" font-size="9.5" text-anchor="end" fill="#231f20" textLength="12.9" lengthAdjust="spacingAndGlyphs" stroke="#231f20" stroke-width="0.22">150</text>
<line x1="76.3" y1="436.3" x2="76.3" y2="439.1" stroke="#231f20" stroke-width="1.0"/>
<text x="76.3" y="451.6" font-size="9.5" text-anchor="middle" fill="#231f20" textLength="4.6" lengthAdjust="spacingAndGlyphs" stroke="#231f20" stroke-width="0.22">0</text>
<line x1="94.19999999999999" y1="436.3" x2="94.19999999999999" y2="439.1" stroke="#231f20" stroke-width="1.0"/>
<text x="94.19999999999999" y="451.6" font-size="9.5" text-anchor="middle" fill="#231f20" textLength="12.8" lengthAdjust="spacingAndGlyphs" stroke="#231f20" stroke-width="0.22">200</text>
<line x1="112.1" y1="436.3" x2="112.1" y2="439.1" stroke="#231f20" stroke-width="1.0"/>
<text x="112.1" y="451.6" font-size="9.5" text-anchor="middle" fill="#231f20" textLength="12.8" lengthAdjust="spacingAndGlyphs" stroke="#231f20" stroke-width="0.22">400</text>
<line x1="130.0" y1="436.3" x2="130.0" y2="439.1" stroke="#231f20" stroke-width="1.0"/>
<text x="130.0" y="451.6" font-size="9.5" text-anchor="middle" fill="#231f20" textLength="12.8" lengthAdjust="spacingAndGlyphs" stroke="#231f20" stroke-width="0.22">600</text>
<line x1="147.89999999999998" y1="436.3" x2="147.89999999999998" y2="439.1" stroke="#231f20" stroke-width="1.0"/>
<text x="147.89999999999998" y="451.6" font-size="9.5" text-anchor="middle" fill="#231f20" textLength="12.8" lengthAdjust="spacingAndGlyphs" stroke="#231f20" stroke-width="0.22">800</text>
<polyline points="295.3,436.60 300.2,436.60 300.3,431.68 300.4,427.45 300.5,423.81 300.6,420.68 300.6,417.98 300.7,415.66 300.8,413.67 300.9,411.95 301.0,410.47 301.1,409.20 301.2,408.10 301.3,407.16 301.4,406.35 301.4,405.66 301.5,405.06 301.6,404.54 301.7,404.10 301.8,403.72 301.9,403.39 302.0,403.11 302.1,402.86 302.2,402.65 302.3,402.48 302.3,402.32 302.4,402.19 302.5,402.08 302.6,401.98 302.7,401.90 302.8,401.82 302.9,401.76 303.0,401.71 303.1,401.67 303.1,401.63 303.2,401.59 303.3,401.57 303.4,401.54 303.5,401.52 303.6,401.51 303.7,401.49 303.8,401.48 304.1,401.45 304.5,401.44 304.8,401.43 305.2,401.43 305.6,401.44 305.9,401.45 306.3,401.45 306.6,401.46 307.0,401.47 307.3,401.48 307.7,401.49 308.1,401.49 308.4,401.50 308.8,401.51 309.1,401.52 309.5,401.53 309.8,401.54 310.2,401.55 310.6,401.55 310.9,401.56 312.0,401.59 313.1,401.61 314.1,401.64 315.2,401.66 316.3,401.69 317.3,401.71 318.4,401.74 319.5,401.77 320.5,401.79 321.6,401.82 322.7,401.84 323.8,401.87 324.8,401.89 325.9,401.92 327.0,401.94 328.0,401.97 329.1,401.99 330.2,402.02 331.3,402.04 332.3,402.07 333.4,402.10 334.5,402.12 335.5,402.15 336.6,402.17 337.7,402.20 338.8,402.22 339.8,402.25 340.9,402.27 342.0,402.30 343.0,402.32 344.1,402.35 345.2,402.38 346.3,402.40 347.3,402.43 348.4,402.45 349.5,402.48 350.5,402.50 351.6,402.53 352.7,402.55 353.8,402.58 355.5,402.90 357.3,403.23 359.1,403.54 360.9,403.86 362.7,404.17 364.5,404.48 366.2,404.79 368.0,405.09 369.8,405.39 371.6,405.69" fill="none" stroke="#4d6a9a" stroke-width="1.45" stroke-linejoin="round"/>
<polyline points="295.3,436.60 300.2,436.60 300.3,431.68 300.4,427.45 300.5,423.81 300.6,420.68 300.6,417.98 300.7,415.66 300.8,413.67 300.9,411.95 301.0,410.47 301.1,409.20 301.2,408.10 301.3,407.16 301.4,406.35 301.4,405.66 301.5,405.06 301.6,404.54 301.7,404.10 301.8,403.72 301.9,403.39 302.0,403.11 302.1,402.86 302.2,402.65 302.3,402.48 302.3,402.32 302.4,402.19 302.5,402.08 302.6,401.98 302.7,401.90 302.8,401.82 302.9,401.76 303.0,401.71 303.1,401.67 303.1,401.63 303.2,401.59 303.3,401.57 303.4,401.54 303.5,401.52 303.6,401.51 303.7,401.49 303.8,401.48 304.1,401.45 304.5,401.44 304.8,401.43 305.2,401.43 305.6,401.44 305.9,401.45 306.3,401.45 306.6,401.46 307.0,401.47 307.3,401.48 307.7,401.49 308.1,401.49 308.4,401.50 308.8,401.51 309.1,401.52 309.5,401.53 309.8,401.54 310.2,401.55 310.6,401.55 310.9,401.56 312.0,401.59 313.1,401.61 314.1,401.64 315.2,401.66 316.3,401.69 317.3,401.71 318.4,401.74 319.5,401.77 320.5,401.79 321.6,401.82 322.7,401.84 323.8,401.87 324.8,401.89 325.9,401.92 327.0,401.94 328.0,401.97 329.1,401.99 330.2,402.02 331.3,402.04 332.3,402.07 333.4,402.10 334.5,402.12 335.5,402.15 336.6,402.17 337.7,402.20 338.8,402.22 339.8,402.25 340.9,402.27 342.0,402.30 343.0,402.32 344.1,402.35 345.2,402.38 346.3,402.40 347.3,402.43 348.4,402.45 349.5,402.48 350.5,402.50 351.6,402.53 352.7,402.55 353.8,402.58 355.5,402.90 357.3,403.23 359.1,403.54 360.9,403.86 362.7,404.17 364.5,404.48 366.2,404.79 368.0,405.09 369.8,405.39 371.6,405.69" fill="none" stroke="#a82a40" stroke-width="1.45" stroke-linejoin="round"/>
<polyline points="295.3,436.60 300.2,436.60 300.3,433.89 300.4,431.38 300.5,429.07 300.6,426.94 300.6,424.97 300.7,423.15 300.8,421.47 300.9,419.93 301.0,418.50 301.1,417.18 301.2,415.96 301.3,414.84 301.4,413.80 301.4,412.84 301.5,411.96 301.6,411.14 301.7,410.39 301.8,409.70 301.9,409.06 302.0,408.47 302.1,407.92 302.2,407.42 302.3,406.95 302.3,406.53 302.4,406.13 302.5,405.77 302.6,405.43 302.7,405.12 302.8,404.83 302.9,404.57 303.0,404.32 303.1,404.10 303.1,403.89 303.2,403.70 303.3,403.52 303.4,403.36 303.5,403.21 303.6,403.07 303.7,402.95 303.8,402.83 304.1,402.44 304.5,402.17 304.8,401.97 305.2,401.83 305.6,401.72 305.9,401.65 306.3,401.60 306.6,401.57 307.0,401.55 307.3,401.54 307.7,401.53 308.1,401.53 308.4,401.53 308.8,401.53 309.1,401.53 309.5,401.54 309.8,401.54 310.2,401.55 310.6,401.56 310.9,401.56 312.0,401.59 313.1,401.61 314.1,401.64 315.2,401.66 316.3,401.69 317.3,401.71 318.4,401.74 319.5,401.77 320.5,401.79 321.6,401.82 322.7,401.84 323.8,401.87 324.8,401.89 325.9,401.92 327.0,401.94 328.0,401.97 329.1,401.99 330.2,402.02 331.3,402.04 332.3,402.07 333.4,402.10 334.5,402.12 335.5,402.15 336.6,402.17 337.7,402.20 338.8,402.22 339.8,402.25 340.9,402.27 342.0,402.30 343.0,402.32 344.1,402.35 345.2,402.38 346.3,402.40 347.3,402.43 348.4,402.45 349.5,402.48 350.5,402.50 351.6,402.53 352.7,402.55 353.8,402.58 355.5,402.90 357.3,403.23 359.1,403.54 360.9,403.86 362.7,404.17 364.5,404.48 366.2,404.79 368.0,405.09 369.8,405.39 371.6,405.69" fill="none" stroke="#4d6a9a" stroke-width="1.45" stroke-linejoin="round"/>
<polyline points="295.3,436.60 300.2,436.60 300.3,433.89 300.4,431.38 300.5,429.07 300.6,426.94 300.6,424.97 300.7,423.15 300.8,421.47 300.9,419.93 301.0,418.50 301.1,417.18 301.2,415.96 301.3,414.84 301.4,413.80 301.4,412.84 301.5,411.96 301.6,411.14 301.7,410.39 301.8,409.70 301.9,409.06 302.0,408.47 302.1,407.92 302.2,407.42 302.3,406.95 302.3,406.53 302.4,406.13 302.5,405.77 302.6,405.43 302.7,405.12 302.8,404.83 302.9,404.57 303.0,404.32 303.1,404.10 303.1,403.89 303.2,403.70 303.3,403.52 303.4,403.36 303.5,403.21 303.6,403.07 303.7,402.95 303.8,402.83 304.1,402.44 304.5,402.17 304.8,401.97 305.2,401.83 305.6,401.72 305.9,401.65 306.3,401.60 306.6,401.57 307.0,401.55 307.3,401.54 307.7,401.53 308.1,401.53 308.4,401.53 308.8,401.53 309.1,401.53 309.5,401.54 309.8,401.54 310.2,401.55 310.6,401.56 310.9,401.56 312.0,401.59 313.1,401.61 314.1,401.64 315.2,401.66 316.3,401.69 317.3,401.71 318.4,401.74 319.5,401.77 320.5,401.79 321.6,401.82 322.7,401.84 323.8,401.87 324.8,401.89 325.9,401.92 327.0,401.94 328.0,401.97 329.1,401.99 330.2,402.02 331.3,402.04 332.3,402.07 333.4,402.10 334.5,402.12 335.5,402.15 336.6,402.17 337.7,402.20 338.8,402.22 339.8,402.25 340.9,402.27 342.0,402.30 343.0,402.32 344.1,402.35 345.2,402.38 346.3,402.40 347.3,402.43 348.4,402.45 349.5,402.48 350.5,402.50 351.6,402.53 352.7,402.55 353.8,402.58 355.5,402.90 357.3,403.23 359.1,403.54 360.9,403.86 362.7,404.17 364.5,404.48 366.2,404.79 368.0,405.09 369.8,405.39 371.6,405.69" fill="none" stroke="#a82a40" stroke-width="1.45" stroke-linejoin="round"/>
<polyline points="295.3,436.60 300.2,436.60 300.3,435.22 300.4,433.89 300.5,432.61 300.6,431.38 300.6,430.20 300.7,429.07 300.8,427.98 300.9,426.94 301.0,425.94 301.1,424.97 301.2,424.05 301.3,423.16 301.4,422.30 301.4,421.48 301.5,420.69 301.6,419.93 301.7,419.21 301.8,418.51 301.9,417.83 302.0,417.19 302.1,416.57 302.2,415.97 302.3,415.40 302.3,414.85 302.4,414.32 302.5,413.82 302.6,413.33 302.7,412.86 302.8,412.41 302.9,411.98 303.0,411.57 303.1,411.17 303.1,410.79 303.2,410.42 303.3,410.07 303.4,409.73 303.5,409.40 303.6,409.09 303.7,408.79 303.8,408.50 304.1,407.46 304.5,406.57 304.8,405.81 305.2,405.17 305.6,404.63 305.9,404.16 306.3,403.77 306.6,403.43 307.0,403.15 307.3,402.91 307.7,402.71 308.1,402.53 308.4,402.39 308.8,402.27 309.1,402.16 309.5,402.08 309.8,402.00 310.2,401.94 310.6,401.89 310.9,401.85 312.0,401.77 313.1,401.72 314.1,401.71 315.2,401.71 316.3,401.72 317.3,401.73 318.4,401.75 319.5,401.77 320.5,401.79 321.6,401.82 322.7,401.84 323.8,401.87 324.8,401.89 325.9,401.92 327.0,401.94 328.0,401.97 329.1,401.99 330.2,402.02 331.3,402.04 332.3,402.07 333.4,402.10 334.5,402.12 335.5,402.15 336.6,402.17 337.7,402.20 338.8,402.22 339.8,402.25 340.9,402.27 342.0,402.30 343.0,402.32 344.1,402.35 345.2,402.38 346.3,402.40 347.3,402.43 348.4,402.45 349.5,402.48 350.5,402.50 351.6,402.53 352.7,402.55 353.8,402.58 355.5,402.90 357.3,403.23 359.1,403.54 360.9,403.86 362.7,404.17 364.5,404.48 366.2,404.79 368.0,405.09 369.8,405.39 371.6,405.69" fill="none" stroke="#4d6a9a" stroke-width="1.45" stroke-linejoin="round"/>
<polyline points="295.3,436.60 300.2,436.60 300.3,435.22 300.4,433.89 300.5,432.61 300.6,431.38 300.6,430.20 300.7,429.07 300.8,427.98 300.9,426.94 301.0,425.94 301.1,424.97 301.2,424.05 301.3,423.16 301.4,422.30 301.4,421.48 301.5,420.69 301.6,419.93 301.7,419.21 301.8,418.51 301.9,417.83 302.0,417.19 302.1,416.57 302.2,415.97 302.3,415.40 302.3,414.85 302.4,414.32 302.5,413.82 302.6,413.33 302.7,412.86 302.8,412.41 302.9,411.98 303.0,411.57 303.1,411.17 303.1,410.79 303.2,410.42 303.3,410.07 303.4,409.73 303.5,409.40 303.6,409.09 303.7,408.79 303.8,408.50 304.1,407.46 304.5,406.57 304.8,405.81 305.2,405.17 305.6,404.63 305.9,404.16 306.3,403.77 306.6,403.43 307.0,403.15 307.3,402.91 307.7,402.71 308.1,402.53 308.4,402.39 308.8,402.27 309.1,402.16 309.5,402.08 309.8,402.00 310.2,401.94 310.6,401.89 310.9,401.85 312.0,401.77 313.1,401.72 314.1,401.71 315.2,401.71 316.3,401.72 317.3,401.73 318.4,401.75 319.5,401.77 320.5,401.79 321.6,401.82 322.7,401.84 323.8,401.87 324.8,401.89 325.9,401.92 327.0,401.94 328.0,401.97 329.1,401.99 330.2,402.02 331.3,402.04 332.3,402.07 333.4,402.10 334.5,402.12 335.5,402.15 336.6,402.17 337.7,402.20 338.8,402.22 339.8,402.25 340.9,402.27 342.0,402.30 343.0,402.32 344.1,402.35 345.2,402.38 346.3,402.40 347.3,402.43 348.4,402.45 349.5,402.48 350.5,402.50 351.6,402.53 352.7,402.55 353.8,402.58 355.5,402.90 357.3,403.23 359.1,403.54 360.9,403.86 362.7,404.17 364.5,404.48 366.2,404.79 368.0,405.09 369.8,405.39 371.6,405.69" fill="none" stroke="#a82a40" stroke-width="1.45" stroke-linejoin="round"/>
<polyline points="295.3,436.60 300.2,436.60 300.3,435.91 300.4,435.23 300.5,434.57 300.6,433.91 300.6,433.28 300.7,432.65 300.8,432.04 300.9,431.44 301.0,430.85 301.1,430.27 301.2,429.70 301.3,429.15 301.4,428.61 301.4,428.07 301.5,427.55 301.6,427.04 301.7,426.54 301.8,426.05 301.9,425.57 302.0,425.10 302.1,424.63 302.2,424.18 302.3,423.74 302.3,423.30 302.4,422.87 302.5,422.46 302.6,422.05 302.7,421.64 302.8,421.25 302.9,420.86 303.0,420.49 303.1,420.12 303.1,419.75 303.2,419.40 303.3,419.05 303.4,418.71 303.5,418.37 303.6,418.04 303.7,417.72 303.8,417.41 304.1,416.21 304.5,415.10 304.8,414.08 305.2,413.14 305.6,412.27 305.9,411.47 306.3,410.73 306.6,410.05 307.0,409.43 307.3,408.85 307.7,408.32 308.1,407.82 308.4,407.37 308.8,406.95 309.1,406.57 309.5,406.22 309.8,405.89 310.2,405.59 310.6,405.31 310.9,405.06 312.0,404.41 313.1,403.91 314.1,403.52 315.2,403.21 316.3,402.98 317.3,402.81 318.4,402.67 319.5,402.57 320.5,402.50 321.6,402.45 322.7,402.41 323.8,402.39 324.8,402.38 325.9,402.37 327.0,402.37 328.0,402.38 329.1,402.39 330.2,402.41 331.3,402.42 332.3,402.44 333.4,402.46 334.5,402.48 335.5,402.50 336.6,402.53 337.7,402.55 338.8,402.57 339.8,402.60 340.9,402.62 342.0,402.64 343.0,402.67 344.1,402.69 345.2,402.72 346.3,402.74 347.3,402.77 348.4,402.79 349.5,402.82 350.5,402.84 351.6,402.87 352.7,402.89 353.8,402.92 355.5,403.24 357.3,403.56 359.1,403.88 360.9,404.19 362.7,404.50 364.5,404.80 366.2,405.11 368.0,405.41 369.8,405.71 371.6,406.00" fill="none" stroke="#4d6a9a" stroke-width="1.45" stroke-linejoin="round"/>
<polyline points="295.3,436.60 300.2,436.60 300.3,435.90 300.4,435.22 300.5,434.55 300.6,433.89 300.6,433.24 300.7,432.61 300.8,431.99 300.9,431.38 301.0,430.79 301.1,430.21 301.2,429.64 301.3,429.08 301.4,428.53 301.4,427.99 301.5,427.46 301.6,426.94 301.7,426.44 301.8,425.94 301.9,425.46 302.0,424.98 302.1,424.51 302.2,424.05 302.3,423.61 302.3,423.17 302.4,422.73 302.5,422.31 302.6,421.90 302.7,421.49 302.8,421.09 302.9,420.71 303.0,420.32 303.1,419.95 303.1,419.58 303.2,419.22 303.3,418.87 303.4,418.53 303.5,418.19 303.6,417.86 303.7,417.53 303.8,417.21 304.1,416.00 304.5,414.88 304.8,413.85 305.2,412.90 305.6,412.03 305.9,411.22 306.3,410.47 306.6,409.79 307.0,409.15 307.3,408.57 307.7,408.03 308.1,407.53 308.4,407.08 308.8,406.66 309.1,406.27 309.5,405.91 309.8,405.58 310.2,405.28 310.6,405.00 310.9,404.74 312.0,404.09 313.1,403.58 314.1,403.18 315.2,402.88 316.3,402.64 317.3,402.46 318.4,402.33 319.5,402.23 320.5,402.15 321.6,402.10 322.7,402.07 323.8,402.04 324.8,402.03 325.9,402.03 327.0,402.03 328.0,402.04 329.1,402.05 330.2,402.06 331.3,402.08 332.3,402.10 333.4,402.12 334.5,402.14 335.5,402.16 336.6,402.18 337.7,402.21 338.8,402.23 339.8,402.25 340.9,402.28 342.0,402.30 343.0,402.33 344.1,402.35 345.2,402.38 346.3,402.40 347.3,402.43 348.4,402.45 349.5,402.48 350.5,402.50 351.6,402.53 352.7,402.55 353.8,402.58 355.5,402.90 357.3,403.23 359.1,403.54 360.9,403.86 362.7,404.17 364.5,404.48 366.2,404.79 368.0,405.09 369.8,405.39 371.6,405.69" fill="none" stroke="#a82a40" stroke-width="1.45" stroke-linejoin="round"/>
<polyline points="295.3,436.60 300.2,436.60 300.3,436.26 300.4,435.92 300.5,435.58 300.6,435.24 300.6,434.91 300.7,434.59 300.8,434.26 300.9,433.94 301.0,433.62 301.1,433.31 301.2,433.00 301.3,432.69 301.4,432.39 301.4,432.09 301.5,431.79 301.6,431.49 301.7,431.20 301.8,430.91 301.9,430.62 302.0,430.34 302.1,430.06 302.2,429.78 302.3,429.50 302.3,429.23 302.4,428.96 302.5,428.69 302.6,428.43 302.7,428.17 302.8,427.91 302.9,427.65 303.0,427.40 303.1,427.15 303.1,426.90 303.2,426.65 303.3,426.41 303.4,426.17 303.5,425.93 303.6,425.69 303.7,425.46 303.8,425.23 304.1,424.32 304.5,423.45 304.8,422.62 305.2,421.82 305.6,421.05 305.9,420.31 306.3,419.61 306.6,418.93 307.0,418.27 307.3,417.65 307.7,417.04 308.1,416.47 308.4,415.91 308.8,415.38 309.1,414.87 309.5,414.38 309.8,413.91 310.2,413.46 310.6,413.02 310.9,412.61 312.0,411.45 313.1,410.44 314.1,409.54 315.2,408.74 316.3,408.04 317.3,407.42 318.4,406.88 319.5,406.40 320.5,405.98 321.6,405.60 322.7,405.28 323.8,404.99 324.8,404.74 325.9,404.52 327.0,404.33 328.0,404.16 329.1,404.01 330.2,403.89 331.3,403.78 332.3,403.69 333.4,403.61 334.5,403.54 335.5,403.48 336.6,403.43 337.7,403.39 338.8,403.36 339.8,403.33 340.9,403.31 342.0,403.30 343.0,403.29 344.1,403.28 345.2,403.28 346.3,403.28 347.3,403.28 348.4,403.29 349.5,403.29 350.5,403.30 351.6,403.31 352.7,403.33 353.8,403.34 355.5,403.66 357.3,403.97 359.1,404.29 360.9,404.59 362.7,404.90 364.5,405.20 366.2,405.50 368.0,405.80 369.8,406.09 371.6,406.39" fill="none" stroke="#4d6a9a" stroke-width="1.45" stroke-linejoin="round"/>
<polyline points="295.3,436.60 300.2,436.60 300.3,436.25 300.4,435.90 300.5,435.56 300.6,435.22 300.6,434.88 300.7,434.55 300.8,434.22 300.9,433.89 301.0,433.56 301.1,433.24 301.2,432.93 301.3,432.61 301.4,432.30 301.4,431.99 301.5,431.69 301.6,431.39 301.7,431.09 301.8,430.79 301.9,430.50 302.0,430.21 302.1,429.92 302.2,429.64 302.3,429.36 302.3,429.08 302.4,428.81 302.5,428.53 302.6,428.26 302.7,428.00 302.8,427.73 302.9,427.47 303.0,427.21 303.1,426.95 303.1,426.70 303.2,426.45 303.3,426.20 303.4,425.95 303.5,425.71 303.6,425.47 303.7,425.23 303.8,424.99 304.1,424.07 304.5,423.18 304.8,422.33 305.2,421.52 305.6,420.73 305.9,419.98 306.3,419.26 306.6,418.56 307.0,417.90 307.3,417.26 307.7,416.65 308.1,416.06 308.4,415.49 308.8,414.95 309.1,414.43 309.5,413.92 309.8,413.44 310.2,412.98 310.6,412.54 310.9,412.12 312.0,410.94 313.1,409.90 314.1,408.99 315.2,408.17 316.3,407.46 317.3,406.83 318.4,406.27 319.5,405.78 320.5,405.35 321.6,404.97 322.7,404.64 323.8,404.35 324.8,404.09 325.9,403.86 327.0,403.67 328.0,403.50 329.1,403.35 330.2,403.22 331.3,403.11 332.3,403.01 333.4,402.93 334.5,402.86 335.5,402.80 336.6,402.75 337.7,402.71 338.8,402.68 339.8,402.65 340.9,402.63 342.0,402.62 343.0,402.61 344.1,402.60 345.2,402.60 346.3,402.60 347.3,402.60 348.4,402.61 349.5,402.61 350.5,402.62 351.6,402.64 352.7,402.65 353.8,402.66 355.5,402.99 357.3,403.31 359.1,403.63 360.9,403.94 362.7,404.25 364.5,404.56 366.2,404.87 368.0,405.17 369.8,405.47 371.6,405.77" fill="none" stroke="#a82a40" stroke-width="1.45" stroke-linejoin="round"/>
<polyline points="295.3,436.60 300.2,436.60 300.3,436.44 300.4,436.29 300.5,436.14 300.6,435.98 300.6,435.83 300.7,435.68 300.8,435.53 300.9,435.38 301.0,435.23 301.1,435.08 301.2,434.93 301.3,434.78 301.4,434.63 301.4,434.49 301.5,434.34 301.6,434.20 301.7,434.05 301.8,433.91 301.9,433.77 302.0,433.63 302.1,433.48 302.2,433.34 302.3,433.20 302.3,433.07 302.4,432.93 302.5,432.79 302.6,432.65 302.7,432.51 302.8,432.38 302.9,432.24 303.0,432.11 303.1,431.97 303.1,431.84 303.2,431.71 303.3,431.58 303.4,431.45 303.5,431.31 303.6,431.18 303.7,431.05 303.8,430.93 304.1,430.42 304.5,429.92 304.8,429.43 305.2,428.95 305.6,428.47 305.9,428.01 306.3,427.56 306.6,427.11 307.0,426.68 307.3,426.25 307.7,425.83 308.1,425.42 308.4,425.01 308.8,424.62 309.1,424.23 309.5,423.85 309.8,423.48 310.2,423.11 310.6,422.75 310.9,422.40 312.0,421.38 313.1,420.42 314.1,419.52 315.2,418.66 316.3,417.86 317.3,417.10 318.4,416.39 319.5,415.71 320.5,415.08 321.6,414.48 322.7,413.91 323.8,413.38 324.8,412.88 325.9,412.41 327.0,411.97 328.0,411.55 329.1,411.16 330.2,410.79 331.3,410.44 332.3,410.11 333.4,409.80 334.5,409.51 335.5,409.24 336.6,408.98 337.7,408.74 338.8,408.52 339.8,408.31 340.9,408.11 342.0,407.92 343.0,407.75 344.1,407.58 345.2,407.43 346.3,407.29 347.3,407.15 348.4,407.03 349.5,406.91 350.5,406.80 351.6,406.70 352.7,406.60 353.8,406.51 355.5,406.80 357.3,407.09 359.1,407.37 360.9,407.65 362.7,407.92 364.5,408.20 366.2,408.47 368.0,408.74 369.8,409.01 371.6,409.27" fill="none" stroke="#4d6a9a" stroke-width="1.45" stroke-linejoin="round"/>
<polyline points="295.3,436.60 300.2,436.60 300.3,436.44 300.4,436.28 300.5,436.13 300.6,435.97 300.6,435.81 300.7,435.66 300.8,435.50 300.9,435.35 301.0,435.20 301.1,435.05 301.2,434.89 301.3,434.74 301.4,434.59 301.4,434.45 301.5,434.30 301.6,434.15 301.7,434.00 301.8,433.86 301.9,433.71 302.0,433.57 302.1,433.42 302.2,433.28 302.3,433.14 302.3,432.99 302.4,432.85 302.5,432.71 302.6,432.57 302.7,432.43 302.8,432.29 302.9,432.15 303.0,432.02 303.1,431.88 303.1,431.74 303.2,431.61 303.3,431.47 303.4,431.34 303.5,431.21 303.6,431.07 303.7,430.94 303.8,430.81 304.1,430.29 304.5,429.78 304.8,429.28 305.2,428.79 305.6,428.31 305.9,427.84 306.3,427.37 306.6,426.92 307.0,426.47 307.3,426.04 307.7,425.61 308.1,425.19 308.4,424.78 308.8,424.37 309.1,423.98 309.5,423.59 309.8,423.21 310.2,422.83 310.6,422.47 310.9,422.11 312.0,421.07 313.1,420.09 314.1,419.17 315.2,418.30 316.3,417.48 317.3,416.70 318.4,415.97 319.5,415.29 320.5,414.64 321.6,414.03 322.7,413.45 323.8,412.91 324.8,412.40 325.9,411.92 327.0,411.46 328.0,411.04 329.1,410.64 330.2,410.26 331.3,409.90 332.3,409.57 333.4,409.25 334.5,408.96 335.5,408.68 336.6,408.42 337.7,408.17 338.8,407.94 339.8,407.73 340.9,407.53 342.0,407.34 343.0,407.16 344.1,406.99 345.2,406.83 346.3,406.69 347.3,406.55 348.4,406.42 349.5,406.30 350.5,406.19 351.6,406.09 352.7,405.99 353.8,405.90 355.5,406.19 357.3,406.48 359.1,406.77 360.9,407.06 362.7,407.34 364.5,407.62 366.2,407.90 368.0,408.17 369.8,408.44 371.6,408.71" fill="none" stroke="#a82a40" stroke-width="1.45" stroke-linejoin="round"/>
<polyline points="295.3,436.60 300.2,436.60 300.3,436.53 300.4,436.46 300.5,436.39 300.6,436.33 300.6,436.26 300.7,436.19 300.8,436.12 300.9,436.05 301.0,435.99 301.1,435.92 301.2,435.85 301.3,435.78 301.4,435.72 301.4,435.65 301.5,435.58 301.6,435.52 301.7,435.45 301.8,435.38 301.9,435.32 302.0,435.25 302.1,435.19 302.2,435.12 302.3,435.05 302.3,434.99 302.4,434.92 302.5,434.86 302.6,434.79 302.7,434.73 302.8,434.66 302.9,434.60 303.0,434.53 303.1,434.47 303.1,434.40 303.2,434.34 303.3,434.28 303.4,434.21 303.5,434.15 303.6,434.08 303.7,434.02 303.8,433.96 304.1,433.70 304.5,433.45 304.8,433.20 305.2,432.96 305.6,432.71 305.9,432.47 306.3,432.23 306.6,431.99 307.0,431.75 307.3,431.52 307.7,431.29 308.1,431.05 308.4,430.82 308.8,430.60 309.1,430.37 309.5,430.15 309.8,429.93 310.2,429.71 310.6,429.49 310.9,429.27 312.0,428.63 313.1,428.01 314.1,427.40 315.2,426.80 316.3,426.22 317.3,425.66 318.4,425.11 319.5,424.57 320.5,424.04 321.6,423.53 322.7,423.03 323.8,422.54 324.8,422.07 325.9,421.60 327.0,421.15 328.0,420.71 329.1,420.28 330.2,419.86 331.3,419.45 332.3,419.05 333.4,418.66 334.5,418.28 335.5,417.91 336.6,417.55 337.7,417.19 338.8,416.85 339.8,416.51 340.9,416.19 342.0,415.87 343.0,415.56 344.1,415.26 345.2,414.96 346.3,414.67 347.3,414.39 348.4,414.12 349.5,413.85 350.5,413.59 351.6,413.34 352.7,413.10 353.8,412.86 355.5,413.08 357.3,413.31 359.1,413.53 360.9,413.75 362.7,413.97 364.5,414.18 366.2,414.40 368.0,414.61 369.8,414.82 371.6,415.03" fill="none" stroke="#4d6a9a" stroke-width="1.45" stroke-linejoin="round"/>
<polyline points="295.3,436.60 300.2,436.60 300.3,436.53 300.4,436.46 300.5,436.39 300.6,436.32 300.6,436.25 300.7,436.18 300.8,436.11 300.9,436.04 301.0,435.97 301.1,435.90 301.2,435.83 301.3,435.76 301.4,435.69 301.4,435.62 301.5,435.55 301.6,435.48 301.7,435.41 301.8,435.35 301.9,435.28 302.0,435.21 302.1,435.14 302.2,435.07 302.3,435.01 302.3,434.94 302.4,434.87 302.5,434.80 302.6,434.74 302.7,434.67 302.8,434.60 302.9,434.54 303.0,434.47 303.1,434.40 303.1,434.34 303.2,434.27 303.3,434.20 303.4,434.14 303.5,434.07 303.6,434.01 303.7,433.94 303.8,433.87 304.1,433.61 304.5,433.36 304.8,433.10 305.2,432.84 305.6,432.59 305.9,432.34 306.3,432.09 306.6,431.85 307.0,431.60 307.3,431.36 307.7,431.12 308.1,430.88 308.4,430.65 308.8,430.41 309.1,430.18 309.5,429.95 309.8,429.72 310.2,429.49 310.6,429.27 310.9,429.04 312.0,428.38 313.1,427.74 314.1,427.11 315.2,426.50 316.3,425.90 317.3,425.32 318.4,424.75 319.5,424.20 320.5,423.65 321.6,423.13 322.7,422.61 323.8,422.11 324.8,421.62 325.9,421.14 327.0,420.67 328.0,420.22 329.1,419.77 330.2,419.34 331.3,418.92 332.3,418.51 333.4,418.10 334.5,417.71 335.5,417.33 336.6,416.96 337.7,416.59 338.8,416.24 339.8,415.89 340.9,415.56 342.0,415.23 343.0,414.91 344.1,414.60 345.2,414.29 346.3,414.00 347.3,413.71 348.4,413.43 349.5,413.15 350.5,412.88 351.6,412.62 352.7,412.37 353.8,412.12 355.5,412.36 357.3,412.59 359.1,412.82 360.9,413.04 362.7,413.27 364.5,413.49 366.2,413.71 368.0,413.93 369.8,414.15 371.6,414.36" fill="none" stroke="#a82a40" stroke-width="1.45" stroke-linejoin="round"/>
<polyline points="295.3,436.60 300.2,436.60 300.3,436.57 300.4,436.54 300.5,436.50 300.6,436.47 300.6,436.44 300.7,436.41 300.8,436.38 300.9,436.34 301.0,436.31 301.1,436.28 301.2,436.25 301.3,436.22 301.4,436.18 301.4,436.15 301.5,436.12 301.6,436.09 301.7,436.06 301.8,436.02 301.9,435.99 302.0,435.96 302.1,435.93 302.2,435.90 302.3,435.87 302.3,435.83 302.4,435.80 302.5,435.77 302.6,435.74 302.7,435.71 302.8,435.68 302.9,435.65 303.0,435.61 303.1,435.58 303.1,435.55 303.2,435.52 303.3,435.49 303.4,435.46 303.5,435.43 303.6,435.39 303.7,435.36 303.8,435.33 304.1,435.21 304.5,435.08 304.8,434.96 305.2,434.84 305.6,434.71 305.9,434.59 306.3,434.47 306.6,434.35 307.0,434.23 307.3,434.11 307.7,433.99 308.1,433.87 308.4,433.75 308.8,433.63 309.1,433.51 309.5,433.39 309.8,433.27 310.2,433.15 310.6,433.04 310.9,432.92 312.0,432.57 313.1,432.23 314.1,431.88 315.2,431.55 316.3,431.21 317.3,430.88 318.4,430.55 319.5,430.23 320.5,429.90 321.6,429.59 322.7,429.27 323.8,428.96 324.8,428.65 325.9,428.34 327.0,428.04 328.0,427.74 329.1,427.44 330.2,427.15 331.3,426.86 332.3,426.57 333.4,426.28 334.5,426.00 335.5,425.72 336.6,425.45 337.7,425.17 338.8,424.90 339.8,424.63 340.9,424.37 342.0,424.10 343.0,423.84 344.1,423.59 345.2,423.33 346.3,423.08 347.3,422.83 348.4,422.58 349.5,422.34 350.5,422.10 351.6,421.86 352.7,421.62 353.8,421.38 355.5,421.53 357.3,421.67 359.1,421.82 360.9,421.96 362.7,422.10 364.5,422.24 366.2,422.37 368.0,422.51 369.8,422.64 371.6,422.78" fill="none" stroke="#4d6a9a" stroke-width="1.45" stroke-linejoin="round"/>
<polyline points="295.3,436.60 300.2,436.60 300.3,436.57 300.4,436.53 300.5,436.50 300.6,436.47 300.6,436.43 300.7,436.40 300.8,436.37 300.9,436.33 301.0,436.30 301.1,436.27 301.2,436.23 301.3,436.20 301.4,436.17 301.4,436.13 301.5,436.10 301.6,436.07 301.7,436.03 301.8,436.00 301.9,435.97 302.0,435.93 302.1,435.90 302.2,435.87 302.3,435.84 302.3,435.80 302.4,435.77 302.5,435.74 302.6,435.70 302.7,435.67 302.8,435.64 302.9,435.61 303.0,435.57 303.1,435.54 303.1,435.51 303.2,435.47 303.3,435.44 303.4,435.41 303.5,435.38 303.6,435.34 303.7,435.31 303.8,435.28 304.1,435.15 304.5,435.02 304.8,434.89 305.2,434.76 305.6,434.64 305.9,434.51 306.3,434.38 306.6,434.25 307.0,434.13 307.3,434.00 307.7,433.88 308.1,433.75 308.4,433.63 308.8,433.50 309.1,433.38 309.5,433.25 309.8,433.13 310.2,433.01 310.6,432.89 310.9,432.77 312.0,432.40 313.1,432.04 314.1,431.69 315.2,431.33 316.3,430.99 317.3,430.64 318.4,430.30 319.5,429.96 320.5,429.62 321.6,429.29 322.7,428.96 323.8,428.64 324.8,428.32 325.9,428.00 327.0,427.68 328.0,427.37 329.1,427.06 330.2,426.75 331.3,426.45 332.3,426.15 333.4,425.85 334.5,425.56 335.5,425.27 336.6,424.98 337.7,424.70 338.8,424.41 339.8,424.13 340.9,423.86 342.0,423.58 343.0,423.31 344.1,423.04 345.2,422.78 346.3,422.52 347.3,422.26 348.4,422.00 349.5,421.74 350.5,421.49 351.6,421.24 352.7,421.00 353.8,420.75 355.5,420.90 357.3,421.05 359.1,421.20 360.9,421.35 362.7,421.49 364.5,421.64 366.2,421.78 368.0,421.92 369.8,422.06 371.6,422.20" fill="none" stroke="#a82a40" stroke-width="1.45" stroke-linejoin="round"/>
<line x1="294.6" y1="392.8" x2="294.6" y2="438.40000000000003" stroke="#231f20" stroke-width="1.3"/>
<line x1="294.0" y1="437.90000000000003" x2="375.0" y2="437.90000000000003" stroke="#231f20" stroke-width="1.3"/>
<line x1="291.8" y1="436.6" x2="294.6" y2="436.6" stroke="#231f20" stroke-width="1.1"/>
<text x="289.8" y="439.90000000000003" font-size="9.5" text-anchor="end" fill="#231f20" textLength="4.6" lengthAdjust="spacingAndGlyphs" stroke="#231f20" stroke-width="0.22">0</text>
<line x1="291.8" y1="426.5" x2="294.6" y2="426.5" stroke="#231f20" stroke-width="1.1"/>
<text x="289.8" y="429.8" font-size="9.5" text-anchor="end" fill="#231f20" textLength="4.6" lengthAdjust="spacingAndGlyphs" stroke="#231f20" stroke-width="0.22">5</text>
<line x1="291.8" y1="416.5" x2="294.6" y2="416.5" stroke="#231f20" stroke-width="1.1"/>
<text x="289.8" y="419.8" font-size="9.5" text-anchor="end" fill="#231f20" textLength="8.8" lengthAdjust="spacingAndGlyphs" stroke="#231f20" stroke-width="0.22">10</text>
<line x1="291.8" y1="406.1" x2="294.6" y2="406.1" stroke="#231f20" stroke-width="1.1"/>
<text x="289.8" y="409.40000000000003" font-size="9.5" text-anchor="end" fill="#231f20" textLength="8.8" lengthAdjust="spacingAndGlyphs" stroke="#231f20" stroke-width="0.22">15</text>
<line x1="291.8" y1="395.7" x2="294.6" y2="395.7" stroke="#231f20" stroke-width="1.1"/>
<text x="289.8" y="399.0" font-size="9.5" text-anchor="end" fill="#231f20" textLength="8.8" lengthAdjust="spacingAndGlyphs" stroke="#231f20" stroke-width="0.22">20</text>
<line x1="300.2" y1="437.90000000000003" x2="300.2" y2="440.70000000000005" stroke="#231f20" stroke-width="1.0"/>
<text x="300.2" y="451.6" font-size="9.5" text-anchor="middle" fill="#231f20" textLength="4.6" lengthAdjust="spacingAndGlyphs" stroke="#231f20" stroke-width="0.22">0</text>
<line x1="318.05" y1="437.90000000000003" x2="318.05" y2="440.70000000000005" stroke="#231f20" stroke-width="1.0"/>
<text x="318.05" y="451.6" font-size="9.5" text-anchor="middle" fill="#231f20" textLength="12.8" lengthAdjust="spacingAndGlyphs" stroke="#231f20" stroke-width="0.22">200</text>
<line x1="335.9" y1="437.90000000000003" x2="335.9" y2="440.70000000000005" stroke="#231f20" stroke-width="1.0"/>
<text x="335.9" y="451.6" font-size="9.5" text-anchor="middle" fill="#231f20" textLength="12.8" lengthAdjust="spacingAndGlyphs" stroke="#231f20" stroke-width="0.22">400</text>
<line x1="353.75" y1="437.90000000000003" x2="353.75" y2="440.70000000000005" stroke="#231f20" stroke-width="1.0"/>
<text x="353.75" y="451.6" font-size="9.5" text-anchor="middle" fill="#231f20" textLength="12.8" lengthAdjust="spacingAndGlyphs" stroke="#231f20" stroke-width="0.22">600</text>
<line x1="371.6" y1="437.90000000000003" x2="371.6" y2="440.70000000000005" stroke="#231f20" stroke-width="1.0"/>
<text x="371.6" y="451.6" font-size="9.5" text-anchor="middle" fill="#231f20" textLength="12.8" lengthAdjust="spacingAndGlyphs" stroke="#231f20" stroke-width="0.22">800</text>
<text x="111.2" y="383.8" font-size="10.8" text-anchor="middle" fill="#231f20" textLength="61.5" lengthAdjust="spacingAndGlyphs" stroke="#231f20" stroke-width="0.22">Full length FH</text>
<text transform="translate(42.0,413.6) rotate(-90)" font-size="10.4" text-anchor="middle" fill="#231f20" textLength="64.0" lengthAdjust="spacingAndGlyphs" stroke="#231f20" stroke-width="0.22">Response (RU)</text>
<text x="111.2" y="465.4" font-size="10.8" text-anchor="middle" fill="#231f20" textLength="28.6" lengthAdjust="spacingAndGlyphs" stroke="#231f20" stroke-width="0.22">T (sec)</text>
<text x="320.2" y="383.9" font-size="10.4" text-anchor="start" fill="#231f20" textLength="11.6" lengthAdjust="spacingAndGlyphs" stroke="#231f20" stroke-width="0.22">FH</text>
<text x="331.9" y="386.6" font-size="7.6" text-anchor="start" fill="#231f20" textLength="19.4" lengthAdjust="spacingAndGlyphs" stroke="#231f20" stroke-width="0.22">18-20</text>
<text transform="translate(271.5,414.5) rotate(-90)" font-size="10.4" text-anchor="middle" fill="#231f20" textLength="64.0" lengthAdjust="spacingAndGlyphs" stroke="#231f20" stroke-width="0.22">Response (RU)</text>
<text x="335.2" y="465.6" font-size="10.8" text-anchor="middle" fill="#231f20" textLength="28.0" lengthAdjust="spacingAndGlyphs" stroke="#231f20" stroke-width="0.22">T (sec)</text>
<g transform="translate(161.6,0) scale(0.86,1) translate(-161.6,0)" stroke="#231f20" stroke-width="0.2"><text x="161.6" y="404.3" font-size="9" fill="#231f20">K<tspan font-size="6.4" dy="1.7">D</tspan><tspan dy="-1.7">=5.02*10</tspan><tspan font-size="6.2" dy="-3.2">-9</tspan><tspan dy="3.2"> M</tspan></text></g>
<g transform="translate(161.6,0) scale(0.87,1) translate(-161.6,0)" stroke="#231f20" stroke-width="0.2"><text x="161.6" y="413.6" font-size="9" fill="#231f20">k<tspan font-size="6.4" dy="1.7">a</tspan><tspan dy="-1.7">=6.76*10</tspan><tspan font-size="6.2" dy="-3.2">4</tspan><tspan dy="3.2"> M</tspan><tspan font-size="6.2" dy="-3.2">-1</tspan><tspan dy="3.2">s</tspan><tspan font-size="6.2" dy="-3.2">-1</tspan></text></g>
<g transform="translate(161.6,0) scale(0.94,1) translate(-161.6,0)" stroke="#231f20" stroke-width="0.2"><text x="161.6" y="423.8" font-size="9" fill="#231f20">k<tspan font-size="6.4" dy="1.7">d</tspan><tspan dy="-1.7">=3.39*10</tspan><tspan font-size="6.2" dy="-3.2">-4</tspan><tspan dy="3.2"> s</tspan><tspan font-size="6.2" dy="-3.2">-1</tspan></text></g>
<g transform="translate(385.7,0) scale(0.86,1) translate(-385.7,0)" stroke="#231f20" stroke-width="0.2"><text x="385.7" y="405.4" font-size="9" fill="#231f20">K<tspan font-size="6.4" dy="1.7">D</tspan><tspan dy="-1.7">=0.36*10</tspan><tspan font-size="6.2" dy="-3.2">-9</tspan><tspan dy="3.2"> M</tspan></text></g>
<g transform="translate(385.7,0) scale(0.87,1) translate(-385.7,0)" stroke="#231f20" stroke-width="0.2"><text x="385.7" y="414.3" font-size="9" fill="#231f20">k<tspan font-size="6.4" dy="1.7">a</tspan><tspan dy="-1.7">=1.02*10</tspan><tspan font-size="6.2" dy="-3.2">6</tspan><tspan dy="3.2"> M</tspan><tspan font-size="6.2" dy="-3.2">-1</tspan><tspan dy="3.2">s</tspan><tspan font-size="6.2" dy="-3.2">-1</tspan></text></g>
<g transform="translate(385.7,0) scale(0.94,1) translate(-385.7,0)" stroke="#231f20" stroke-width="0.2"><text x="385.7" y="424.6" font-size="9" fill="#231f20">k<tspan font-size="6.4" dy="1.7">d</tspan><tspan dy="-1.7">=3.67*10</tspan><tspan font-size="6.2" dy="-3.2">-4</tspan><tspan dy="3.2"> s</tspan><tspan font-size="6.2" dy="-3.2">-1</tspan></text></g>
<rect x="0" y="0" width="520" height="1.9" fill="#4d4d4d"/>
<rect x="0" y="0" width="1.95" height="477" fill="#505050"/>
<rect x="0" y="474.8" width="520" height="2.2" fill="#505050"/>
<rect x="518.9" y="1.2" width="1.1" height="475.8" fill="#000"/>
</svg>
</body></html>
